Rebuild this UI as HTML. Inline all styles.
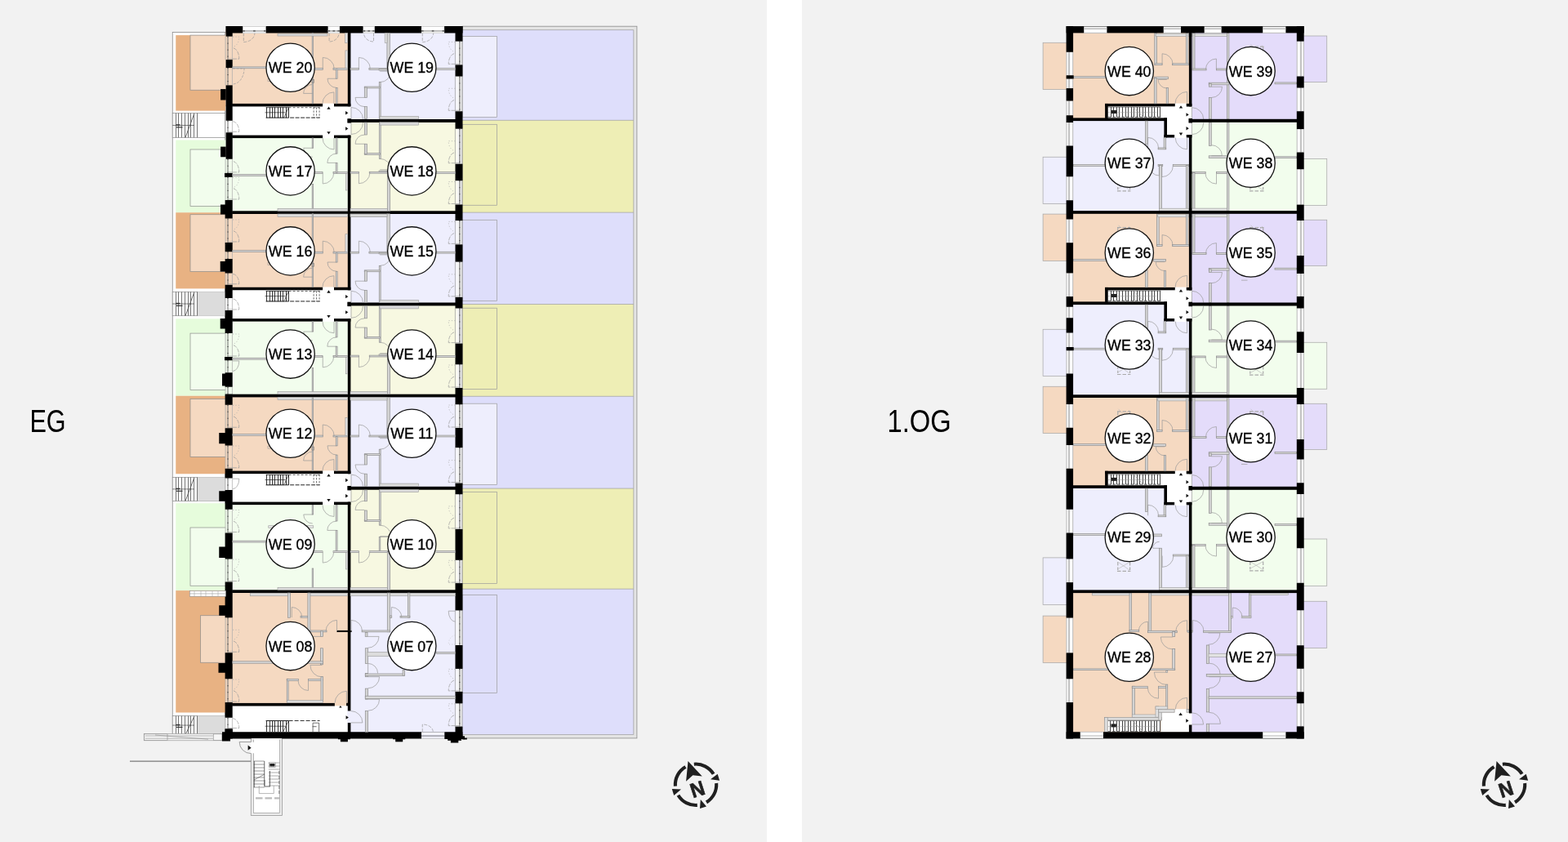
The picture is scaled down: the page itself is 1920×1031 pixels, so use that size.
<!DOCTYPE html>
<html lang="de"><head><meta charset="utf-8"><title>Grundrisse EG / 1.OG</title>
<style>
html,body{margin:0;padding:0;background:#fff;}
body{width:1920px;height:1031px;overflow:hidden;position:relative;font-family:"Liberation Sans",sans-serif;}
svg{position:absolute;left:0;top:0;display:block;}
.we{font-family:"Liberation Sans",sans-serif;font-size:18.5px;fill:#000;stroke:#000;stroke-width:0.35px;text-anchor:middle;}
.fl{font-family:"Liberation Sans",sans-serif;font-size:39.6px;fill:#000;}
.n{font-family:"Liberation Sans",sans-serif;font-weight:bold;font-size:25px;fill:#231f20;stroke:#231f20;stroke-width:0.7px;text-anchor:middle;}
</style></head><body>
<svg width="1920" height="1031" viewBox="0 0 1920 1031">
<rect x="0" y="0" width="939" height="1031" fill="#f2f2f2"/>
<rect x="982" y="0" width="938" height="1031" fill="#f2f2f2"/>
<rect x="566" y="32.2" width="213.9" height="871.7" fill="#e4e4e4" stroke="#8a8a8a" stroke-width="0.8"/>
<rect x="566" y="36.6" width="209.8" height="110.7" fill="#dedefb"/>
<rect x="566" y="147.3" width="209.8" height="112.85" fill="#eeeeb5"/>
<rect x="566" y="260.15" width="209.8" height="112.35" fill="#dedefb"/>
<rect x="566" y="372.5" width="209.8" height="112.8" fill="#eeeeb5"/>
<rect x="566" y="485.3" width="209.8" height="112.8" fill="#dedefb"/>
<rect x="566" y="598.1" width="209.8" height="123.1" fill="#eeeeb5"/>
<rect x="566" y="721.2" width="209.8" height="178.3" fill="#dedefb"/>
<line x1="566" y1="147.3" x2="775.8" y2="147.3" stroke="#9c9c9c" stroke-width="0.7"/>
<line x1="566" y1="260.15" x2="775.8" y2="260.15" stroke="#9c9c9c" stroke-width="0.7"/>
<line x1="566" y1="372.5" x2="775.8" y2="372.5" stroke="#9c9c9c" stroke-width="0.7"/>
<line x1="566" y1="485.3" x2="775.8" y2="485.3" stroke="#9c9c9c" stroke-width="0.7"/>
<line x1="566" y1="598.1" x2="775.8" y2="598.1" stroke="#9c9c9c" stroke-width="0.7"/>
<line x1="566" y1="721.2" x2="775.8" y2="721.2" stroke="#9c9c9c" stroke-width="0.7"/>
<line x1="566" y1="36.6" x2="775.8" y2="36.6" stroke="#9c9c9c" stroke-width="0.7"/>
<line x1="775.8" y1="36.6" x2="775.8" y2="899.5" stroke="#9c9c9c" stroke-width="0.7"/>
<line x1="566" y1="899.5" x2="775.8" y2="899.5" stroke="#9c9c9c" stroke-width="0.7"/>
<rect x="566" y="44.4" width="42.6" height="99.2" fill="#eeeefd" stroke="#9c9c9c" stroke-width="0.7"/>
<rect x="566" y="152.3" width="42.6" height="98.95" fill="#eeeeb5" stroke="#9c9c9c" stroke-width="0.7"/>
<rect x="566" y="269.3" width="42.6" height="99" fill="#dedefb" stroke="#9c9c9c" stroke-width="0.7"/>
<rect x="566" y="377.2" width="42.6" height="99.2" fill="#eeeeb5" stroke="#9c9c9c" stroke-width="0.7"/>
<rect x="566" y="494.2" width="42.6" height="99.2" fill="#eeeefd" stroke="#9c9c9c" stroke-width="0.7"/>
<rect x="566" y="602.3" width="42.6" height="112.1" fill="#eeeeb5" stroke="#9c9c9c" stroke-width="0.7"/>
<rect x="566" y="728.5" width="42.6" height="120" fill="#dedefb" stroke="#9c9c9c" stroke-width="0.7"/>
<rect x="211.25" y="39.4" width="64.45" height="860.1" fill="#fff" stroke="#8a8a8a" stroke-width="0.8"/>
<rect x="215.25" y="43.1" width="61.45" height="92.5" fill="#e8b283"/>
<rect x="233" y="43.1" width="43.7" height="67.15" fill="#f5d9c1" stroke="#8c8c8c" stroke-width="0.7"/>
<rect x="215.25" y="171.5" width="61.45" height="88.75" fill="#e6fcdc"/>
<rect x="233" y="183" width="43.7" height="69.5" fill="#f2fded" stroke="#8c8c8c" stroke-width="0.7"/>
<rect x="215.25" y="260.25" width="61.45" height="93.15" fill="#e8b283"/>
<rect x="233" y="262.75" width="43.7" height="69.75" fill="#f5d9c1" stroke="#8c8c8c" stroke-width="0.7"/>
<rect x="215.25" y="390.3" width="61.45" height="94.45" fill="#e6fcdc"/>
<rect x="233" y="408.1" width="43.7" height="69.4" fill="#f2fded" stroke="#8c8c8c" stroke-width="0.7"/>
<rect x="215.25" y="484.75" width="61.45" height="95.5" fill="#e8b283"/>
<rect x="233" y="488.5" width="43.7" height="70.9" fill="#f5d9c1" stroke="#8c8c8c" stroke-width="0.7"/>
<rect x="215.25" y="616.25" width="61.45" height="106.85" fill="#e6fcdc"/>
<rect x="233" y="646" width="43.7" height="71.25" fill="#f2fded" stroke="#8c8c8c" stroke-width="0.7"/>
<rect x="215.25" y="723.1" width="61.45" height="149.4" fill="#e8b283"/>
<rect x="245.5" y="753.75" width="31.2" height="57.5" fill="#f5d9c1" stroke="#8c8c8c" stroke-width="0.7"/>
<rect x="211.25" y="138.5" width="64.45" height="29.9" fill="#fff" stroke="#8a8a8a" stroke-width="0.7"/>
<line x1="215.5" y1="138.5" x2="215.5" y2="168.4" stroke="#666" stroke-width="0.9"/>
<line x1="218.5" y1="138.5" x2="218.5" y2="168.4" stroke="#666" stroke-width="0.9"/>
<line x1="222.5" y1="138.5" x2="222.5" y2="168.4" stroke="#666" stroke-width="0.9"/>
<line x1="226.5" y1="138.5" x2="226.5" y2="168.4" stroke="#666" stroke-width="0.9"/>
<line x1="230.5" y1="138.5" x2="230.5" y2="168.4" stroke="#666" stroke-width="0.9"/>
<line x1="233.5" y1="138.5" x2="233.5" y2="168.4" stroke="#666" stroke-width="0.9"/>
<line x1="237.5" y1="138.5" x2="237.5" y2="168.4" stroke="#666" stroke-width="0.9"/>
<line x1="241.5" y1="138.5" x2="241.5" y2="168.4" stroke="#666" stroke-width="0.9"/>
<line x1="211.25" y1="153.45" x2="238" y2="153.45" stroke="#444" stroke-width="0.7"/>
<rect x="215.5" y="152.25" width="5" height="1.4" fill="#333"/>
<rect x="216" y="155.25" width="7.5" height="1.2" fill="#333"/>
<line x1="227" y1="168.4" x2="237.7" y2="139.5" stroke="#555" stroke-width="0.9"/>
<rect x="211.25" y="357.3" width="64.45" height="29.4" fill="#fff" stroke="#8a8a8a" stroke-width="0.7"/>
<rect x="241.9" y="357.3" width="33.8" height="29.4" fill="#dcdcdc"/>
<line x1="215.5" y1="357.3" x2="215.5" y2="386.7" stroke="#666" stroke-width="0.9"/>
<line x1="218.5" y1="357.3" x2="218.5" y2="386.7" stroke="#666" stroke-width="0.9"/>
<line x1="222.5" y1="357.3" x2="222.5" y2="386.7" stroke="#666" stroke-width="0.9"/>
<line x1="226.5" y1="357.3" x2="226.5" y2="386.7" stroke="#666" stroke-width="0.9"/>
<line x1="230.5" y1="357.3" x2="230.5" y2="386.7" stroke="#666" stroke-width="0.9"/>
<line x1="233.5" y1="357.3" x2="233.5" y2="386.7" stroke="#666" stroke-width="0.9"/>
<line x1="237.5" y1="357.3" x2="237.5" y2="386.7" stroke="#666" stroke-width="0.9"/>
<line x1="241.5" y1="357.3" x2="241.5" y2="386.7" stroke="#666" stroke-width="0.9"/>
<line x1="211.25" y1="372" x2="238" y2="372" stroke="#444" stroke-width="0.7"/>
<rect x="215.5" y="370.8" width="5" height="1.4" fill="#333"/>
<rect x="216" y="373.8" width="7.5" height="1.2" fill="#333"/>
<line x1="227" y1="386.7" x2="237.7" y2="358.3" stroke="#555" stroke-width="0.9"/>
<rect x="211.25" y="584.4" width="64.45" height="29" fill="#fff" stroke="#8a8a8a" stroke-width="0.7"/>
<rect x="241.9" y="584.4" width="33.8" height="29" fill="#dcdcdc"/>
<line x1="215.5" y1="584.4" x2="215.5" y2="613.4" stroke="#666" stroke-width="0.9"/>
<line x1="218.5" y1="584.4" x2="218.5" y2="613.4" stroke="#666" stroke-width="0.9"/>
<line x1="222.5" y1="584.4" x2="222.5" y2="613.4" stroke="#666" stroke-width="0.9"/>
<line x1="226.5" y1="584.4" x2="226.5" y2="613.4" stroke="#666" stroke-width="0.9"/>
<line x1="230.5" y1="584.4" x2="230.5" y2="613.4" stroke="#666" stroke-width="0.9"/>
<line x1="233.5" y1="584.4" x2="233.5" y2="613.4" stroke="#666" stroke-width="0.9"/>
<line x1="237.5" y1="584.4" x2="237.5" y2="613.4" stroke="#666" stroke-width="0.9"/>
<line x1="241.5" y1="584.4" x2="241.5" y2="613.4" stroke="#666" stroke-width="0.9"/>
<line x1="211.25" y1="598.9" x2="238" y2="598.9" stroke="#444" stroke-width="0.7"/>
<rect x="215.5" y="597.7" width="5" height="1.4" fill="#333"/>
<rect x="216" y="600.7" width="7.5" height="1.2" fill="#333"/>
<line x1="227" y1="613.4" x2="237.7" y2="585.4" stroke="#555" stroke-width="0.9"/>
<rect x="211.25" y="876.5" width="64.45" height="23.1" fill="#fff" stroke="#8a8a8a" stroke-width="0.7"/>
<rect x="241.9" y="876.5" width="33.8" height="23.1" fill="#dcdcdc"/>
<line x1="215.5" y1="876.5" x2="215.5" y2="899.6" stroke="#666" stroke-width="0.9"/>
<line x1="218.5" y1="876.5" x2="218.5" y2="899.6" stroke="#666" stroke-width="0.9"/>
<line x1="222.5" y1="876.5" x2="222.5" y2="899.6" stroke="#666" stroke-width="0.9"/>
<line x1="226.5" y1="876.5" x2="226.5" y2="899.6" stroke="#666" stroke-width="0.9"/>
<line x1="230.5" y1="876.5" x2="230.5" y2="899.6" stroke="#666" stroke-width="0.9"/>
<line x1="233.5" y1="876.5" x2="233.5" y2="899.6" stroke="#666" stroke-width="0.9"/>
<line x1="237.5" y1="876.5" x2="237.5" y2="899.6" stroke="#666" stroke-width="0.9"/>
<line x1="241.5" y1="876.5" x2="241.5" y2="899.6" stroke="#666" stroke-width="0.9"/>
<line x1="211.25" y1="888.05" x2="238" y2="888.05" stroke="#444" stroke-width="0.7"/>
<rect x="215.5" y="886.85" width="5" height="1.4" fill="#333"/>
<rect x="216" y="889.85" width="7.5" height="1.2" fill="#333"/>
<line x1="227" y1="899.6" x2="237.7" y2="877.5" stroke="#555" stroke-width="0.9"/>
<rect x="276.2" y="36" width="151.1" height="92.5" fill="#f5d9c1"/>
<rect x="427.3" y="36" width="132.2" height="112" fill="#eeeefd"/>
<rect x="276.2" y="167" width="151.1" height="93" fill="#f2fded"/>
<rect x="427.3" y="148" width="132.2" height="112" fill="#f7f8e1"/>
<rect x="276.2" y="260" width="151.1" height="93.5" fill="#f5d9c1"/>
<rect x="427.3" y="260" width="132.2" height="112.5" fill="#eeeefd"/>
<rect x="276.2" y="392" width="151.1" height="92.5" fill="#f2fded"/>
<rect x="427.3" y="372.5" width="132.2" height="112" fill="#f7f8e1"/>
<rect x="276.2" y="484.5" width="151.1" height="94" fill="#f5d9c1"/>
<rect x="427.3" y="484.5" width="132.2" height="113" fill="#eeeefd"/>
<rect x="276.2" y="616.5" width="151.1" height="107.5" fill="#f2fded"/>
<rect x="427.3" y="597.5" width="132.2" height="126.5" fill="#f7f8e1"/>
<rect x="276.2" y="724" width="151.1" height="138.5" fill="#f5d9c1"/>
<rect x="427.3" y="724" width="132.2" height="176" fill="#eeeefd"/>
<rect x="276.2" y="130.3" width="153.2" height="35.3" fill="#fff"/>
<rect x="276.2" y="355.2" width="153.2" height="35" fill="#fff"/>
<rect x="276.2" y="580.2" width="153.2" height="34.4" fill="#fff"/>
<rect x="276.2" y="864.2" width="153.2" height="32.8" fill="#fff"/>
<line x1="276" y1="44.6" x2="276" y2="73.1" stroke="#aaa" stroke-width="0.7"/>
<line x1="279" y1="44.6" x2="279" y2="73.1" stroke="#777" stroke-width="1.1"/>
<line x1="279" y1="44.6" x2="279" y2="73.1" stroke="#222" stroke-width="0.9" stroke-dasharray="1 7"/>
<line x1="284.4" y1="44.6" x2="284.4" y2="73.1" stroke="#aaa" stroke-width="0.7"/>
<line x1="276" y1="83.1" x2="276" y2="104.4" stroke="#aaa" stroke-width="0.7"/>
<line x1="279" y1="83.1" x2="279" y2="104.4" stroke="#777" stroke-width="1.1"/>
<line x1="279" y1="83.1" x2="279" y2="104.4" stroke="#222" stroke-width="0.9" stroke-dasharray="1 7"/>
<line x1="284.4" y1="83.1" x2="284.4" y2="104.4" stroke="#aaa" stroke-width="0.7"/>
<line x1="276" y1="147.75" x2="276" y2="162.25" stroke="#aaa" stroke-width="0.7"/>
<line x1="279" y1="147.75" x2="279" y2="162.25" stroke="#777" stroke-width="1.1"/>
<line x1="279" y1="147.75" x2="279" y2="162.25" stroke="#222" stroke-width="0.9" stroke-dasharray="1 7"/>
<line x1="284.4" y1="147.75" x2="284.4" y2="162.25" stroke="#aaa" stroke-width="0.7"/>
<line x1="276" y1="194.75" x2="276" y2="211.9" stroke="#aaa" stroke-width="0.7"/>
<line x1="279" y1="194.75" x2="279" y2="211.9" stroke="#777" stroke-width="1.1"/>
<line x1="279" y1="194.75" x2="279" y2="211.9" stroke="#222" stroke-width="0.9" stroke-dasharray="1 7"/>
<line x1="284.4" y1="194.75" x2="284.4" y2="211.9" stroke="#aaa" stroke-width="0.7"/>
<line x1="276" y1="216.9" x2="276" y2="245" stroke="#aaa" stroke-width="0.7"/>
<line x1="279" y1="216.9" x2="279" y2="245" stroke="#777" stroke-width="1.1"/>
<line x1="279" y1="216.9" x2="279" y2="245" stroke="#222" stroke-width="0.9" stroke-dasharray="1 7"/>
<line x1="284.4" y1="216.9" x2="284.4" y2="245" stroke="#aaa" stroke-width="0.7"/>
<line x1="276" y1="267.5" x2="276" y2="297" stroke="#aaa" stroke-width="0.7"/>
<line x1="279" y1="267.5" x2="279" y2="297" stroke="#777" stroke-width="1.1"/>
<line x1="279" y1="267.5" x2="279" y2="297" stroke="#222" stroke-width="0.9" stroke-dasharray="1 7"/>
<line x1="284.4" y1="267.5" x2="284.4" y2="297" stroke="#aaa" stroke-width="0.7"/>
<line x1="276" y1="308.25" x2="276" y2="317" stroke="#aaa" stroke-width="0.7"/>
<line x1="279" y1="308.25" x2="279" y2="317" stroke="#777" stroke-width="1.1"/>
<line x1="279" y1="308.25" x2="279" y2="317" stroke="#222" stroke-width="0.9" stroke-dasharray="1 7"/>
<line x1="284.4" y1="308.25" x2="284.4" y2="317" stroke="#aaa" stroke-width="0.7"/>
<line x1="276" y1="334.5" x2="276" y2="348.75" stroke="#aaa" stroke-width="0.7"/>
<line x1="279" y1="334.5" x2="279" y2="348.75" stroke="#777" stroke-width="1.1"/>
<line x1="279" y1="334.5" x2="279" y2="348.75" stroke="#222" stroke-width="0.9" stroke-dasharray="1 7"/>
<line x1="284.4" y1="334.5" x2="284.4" y2="348.75" stroke="#aaa" stroke-width="0.7"/>
<line x1="276" y1="365" x2="276" y2="380" stroke="#aaa" stroke-width="0.7"/>
<line x1="279" y1="365" x2="279" y2="380" stroke="#777" stroke-width="1.1"/>
<line x1="279" y1="365" x2="279" y2="380" stroke="#222" stroke-width="0.9" stroke-dasharray="1 7"/>
<line x1="284.4" y1="365" x2="284.4" y2="380" stroke="#aaa" stroke-width="0.7"/>
<line x1="276" y1="408" x2="276" y2="437" stroke="#aaa" stroke-width="0.7"/>
<line x1="279" y1="408" x2="279" y2="437" stroke="#777" stroke-width="1.1"/>
<line x1="279" y1="408" x2="279" y2="437" stroke="#222" stroke-width="0.9" stroke-dasharray="1 7"/>
<line x1="284.4" y1="408" x2="284.4" y2="437" stroke="#aaa" stroke-width="0.7"/>
<line x1="276" y1="441.25" x2="276" y2="456.25" stroke="#aaa" stroke-width="0.7"/>
<line x1="279" y1="441.25" x2="279" y2="456.25" stroke="#777" stroke-width="1.1"/>
<line x1="279" y1="441.25" x2="279" y2="456.25" stroke="#222" stroke-width="0.9" stroke-dasharray="1 7"/>
<line x1="284.4" y1="441.25" x2="284.4" y2="456.25" stroke="#aaa" stroke-width="0.7"/>
<line x1="276" y1="473.75" x2="276" y2="482.5" stroke="#aaa" stroke-width="0.7"/>
<line x1="279" y1="473.75" x2="279" y2="482.5" stroke="#777" stroke-width="1.1"/>
<line x1="279" y1="473.75" x2="279" y2="482.5" stroke="#222" stroke-width="0.9" stroke-dasharray="1 7"/>
<line x1="284.4" y1="473.75" x2="284.4" y2="482.5" stroke="#aaa" stroke-width="0.7"/>
<line x1="276" y1="495.75" x2="276" y2="524.25" stroke="#aaa" stroke-width="0.7"/>
<line x1="279" y1="495.75" x2="279" y2="524.25" stroke="#777" stroke-width="1.1"/>
<line x1="279" y1="495.75" x2="279" y2="524.25" stroke="#222" stroke-width="0.9" stroke-dasharray="1 7"/>
<line x1="284.4" y1="495.75" x2="284.4" y2="524.25" stroke="#aaa" stroke-width="0.7"/>
<line x1="276" y1="545.5" x2="276" y2="573.75" stroke="#aaa" stroke-width="0.7"/>
<line x1="279" y1="545.5" x2="279" y2="573.75" stroke="#777" stroke-width="1.1"/>
<line x1="279" y1="545.5" x2="279" y2="573.75" stroke="#222" stroke-width="0.9" stroke-dasharray="1 7"/>
<line x1="284.4" y1="545.5" x2="284.4" y2="573.75" stroke="#aaa" stroke-width="0.7"/>
<line x1="276" y1="585.5" x2="276" y2="600" stroke="#aaa" stroke-width="0.7"/>
<line x1="279" y1="585.5" x2="279" y2="600" stroke="#777" stroke-width="1.1"/>
<line x1="279" y1="585.5" x2="279" y2="600" stroke="#222" stroke-width="0.9" stroke-dasharray="1 7"/>
<line x1="284.4" y1="585.5" x2="284.4" y2="600" stroke="#aaa" stroke-width="0.7"/>
<line x1="276" y1="623.75" x2="276" y2="652.5" stroke="#aaa" stroke-width="0.7"/>
<line x1="279" y1="623.75" x2="279" y2="652.5" stroke="#777" stroke-width="1.1"/>
<line x1="279" y1="623.75" x2="279" y2="652.5" stroke="#222" stroke-width="0.9" stroke-dasharray="1 7"/>
<line x1="284.4" y1="623.75" x2="284.4" y2="652.5" stroke="#aaa" stroke-width="0.7"/>
<line x1="276" y1="684.5" x2="276" y2="712.5" stroke="#aaa" stroke-width="0.7"/>
<line x1="279" y1="684.5" x2="279" y2="712.5" stroke="#777" stroke-width="1.1"/>
<line x1="279" y1="684.5" x2="279" y2="712.5" stroke="#222" stroke-width="0.9" stroke-dasharray="1 7"/>
<line x1="284.4" y1="684.5" x2="284.4" y2="712.5" stroke="#aaa" stroke-width="0.7"/>
<line x1="276" y1="756.25" x2="276" y2="799.25" stroke="#aaa" stroke-width="0.7"/>
<line x1="279" y1="756.25" x2="279" y2="799.25" stroke="#777" stroke-width="1.1"/>
<line x1="279" y1="756.25" x2="279" y2="799.25" stroke="#222" stroke-width="0.9" stroke-dasharray="1 7"/>
<line x1="284.4" y1="756.25" x2="284.4" y2="799.25" stroke="#aaa" stroke-width="0.7"/>
<line x1="276" y1="831.25" x2="276" y2="860" stroke="#aaa" stroke-width="0.7"/>
<line x1="279" y1="831.25" x2="279" y2="860" stroke="#777" stroke-width="1.1"/>
<line x1="279" y1="831.25" x2="279" y2="860" stroke="#222" stroke-width="0.9" stroke-dasharray="1 7"/>
<line x1="284.4" y1="831.25" x2="284.4" y2="860" stroke="#aaa" stroke-width="0.7"/>
<line x1="276" y1="878.75" x2="276" y2="892.5" stroke="#aaa" stroke-width="0.7"/>
<line x1="279" y1="878.75" x2="279" y2="892.5" stroke="#777" stroke-width="1.1"/>
<line x1="279" y1="878.75" x2="279" y2="892.5" stroke="#222" stroke-width="0.9" stroke-dasharray="1 7"/>
<line x1="284.4" y1="878.75" x2="284.4" y2="892.5" stroke="#aaa" stroke-width="0.7"/>
<rect x="276.6" y="32" width="8.1" height="12.6" fill="#000"/>
<rect x="276.6" y="73.1" width="8.1" height="10" fill="#000"/>
<rect x="276.6" y="104.4" width="8.1" height="43.35" fill="#000"/>
<rect x="270.1" y="109.1" width="6.6" height="13.4" fill="#000"/>
<rect x="276.6" y="162.25" width="8.1" height="32.5" fill="#000"/>
<rect x="270.1" y="179.6" width="6.6" height="12.65" fill="#000"/>
<rect x="275" y="211.9" width="9.7" height="5" fill="#000"/>
<rect x="275.6" y="245" width="9.1" height="22.5" fill="#000"/>
<rect x="270" y="250.5" width="6.7" height="12" fill="#000"/>
<rect x="275.6" y="297" width="9.1" height="11.25" fill="#000"/>
<rect x="275.6" y="317" width="9.1" height="17.5" fill="#000"/>
<rect x="269.7" y="320" width="7" height="12.5" fill="#000"/>
<rect x="275.6" y="348.75" width="9.1" height="16.25" fill="#000"/>
<rect x="275.6" y="380" width="9.1" height="28" fill="#000"/>
<rect x="269.7" y="390" width="7" height="12.5" fill="#000"/>
<rect x="275" y="437" width="9.7" height="4.25" fill="#000"/>
<rect x="275.6" y="456.25" width="9.1" height="17.5" fill="#000"/>
<rect x="272" y="457.5" width="4.7" height="15" fill="#000"/>
<rect x="275.6" y="482.5" width="9.1" height="13.25" fill="#000"/>
<rect x="275.6" y="524.25" width="9.1" height="21.25" fill="#000"/>
<rect x="268.25" y="530" width="8.45" height="13.25" fill="#000"/>
<rect x="275.6" y="573.75" width="9.1" height="11.75" fill="#000"/>
<rect x="275.6" y="600" width="9.1" height="23.75" fill="#000"/>
<rect x="268.25" y="601.25" width="8.45" height="12.5" fill="#000"/>
<rect x="275.6" y="652.5" width="9.1" height="32" fill="#000"/>
<rect x="268.25" y="669.5" width="8.45" height="13.5" fill="#000"/>
<rect x="275.6" y="712.5" width="9.1" height="43.75" fill="#000"/>
<rect x="268.25" y="741.25" width="8.45" height="12.5" fill="#000"/>
<rect x="275.6" y="799.25" width="9.1" height="32" fill="#000"/>
<rect x="267.5" y="812" width="9.2" height="11.75" fill="#000"/>
<rect x="275.6" y="860" width="9.1" height="18.75" fill="#000"/>
<rect x="275.6" y="892.5" width="9.1" height="12" fill="#000"/>
<rect x="557.5" y="50.6" width="8.6" height="28.8" fill="#ffffff" fill-opacity="0.35"/>
<line x1="557.4" y1="50.6" x2="557.4" y2="79.4" stroke="#999" stroke-width="0.7"/>
<line x1="562.9" y1="50.6" x2="562.9" y2="79.4" stroke="#8a8a8a" stroke-width="1.4"/>
<line x1="562.9" y1="50.6" x2="562.9" y2="79.4" stroke="#333" stroke-width="0.9" stroke-dasharray="1 7"/>
<line x1="566.1" y1="50.6" x2="566.1" y2="79.4" stroke="#999" stroke-width="0.7"/>
<rect x="557.5" y="93.5" width="8.6" height="42.8" fill="#ffffff" fill-opacity="0.35"/>
<line x1="557.4" y1="93.5" x2="557.4" y2="136.3" stroke="#999" stroke-width="0.7"/>
<line x1="562.9" y1="93.5" x2="562.9" y2="136.3" stroke="#8a8a8a" stroke-width="1.4"/>
<line x1="562.9" y1="93.5" x2="562.9" y2="136.3" stroke="#333" stroke-width="0.9" stroke-dasharray="1 7"/>
<line x1="566.1" y1="93.5" x2="566.1" y2="136.3" stroke="#999" stroke-width="0.7"/>
<rect x="557.5" y="157.7" width="8.6" height="43" fill="#ffffff" fill-opacity="0.35"/>
<line x1="557.4" y1="157.7" x2="557.4" y2="200.7" stroke="#999" stroke-width="0.7"/>
<line x1="562.9" y1="157.7" x2="562.9" y2="200.7" stroke="#8a8a8a" stroke-width="1.4"/>
<line x1="562.9" y1="157.7" x2="562.9" y2="200.7" stroke="#333" stroke-width="0.9" stroke-dasharray="1 7"/>
<line x1="566.1" y1="157.7" x2="566.1" y2="200.7" stroke="#999" stroke-width="0.7"/>
<rect x="557.5" y="221.2" width="8.6" height="29.3" fill="#ffffff" fill-opacity="0.35"/>
<line x1="557.4" y1="221.2" x2="557.4" y2="250.5" stroke="#999" stroke-width="0.7"/>
<line x1="562.9" y1="221.2" x2="562.9" y2="250.5" stroke="#8a8a8a" stroke-width="1.4"/>
<line x1="562.9" y1="221.2" x2="562.9" y2="250.5" stroke="#333" stroke-width="0.9" stroke-dasharray="1 7"/>
<line x1="566.1" y1="221.2" x2="566.1" y2="250.5" stroke="#999" stroke-width="0.7"/>
<rect x="557.5" y="270.1" width="8.6" height="29.3" fill="#ffffff" fill-opacity="0.35"/>
<line x1="557.4" y1="270.1" x2="557.4" y2="299.4" stroke="#999" stroke-width="0.7"/>
<line x1="562.9" y1="270.1" x2="562.9" y2="299.4" stroke="#8a8a8a" stroke-width="1.4"/>
<line x1="562.9" y1="270.1" x2="562.9" y2="299.4" stroke="#333" stroke-width="0.9" stroke-dasharray="1 7"/>
<line x1="566.1" y1="270.1" x2="566.1" y2="299.4" stroke="#999" stroke-width="0.7"/>
<rect x="557.5" y="320.6" width="8.6" height="43.3" fill="#ffffff" fill-opacity="0.35"/>
<line x1="557.4" y1="320.6" x2="557.4" y2="363.9" stroke="#999" stroke-width="0.7"/>
<line x1="562.9" y1="320.6" x2="562.9" y2="363.9" stroke="#8a8a8a" stroke-width="1.4"/>
<line x1="562.9" y1="320.6" x2="562.9" y2="363.9" stroke="#333" stroke-width="0.9" stroke-dasharray="1 7"/>
<line x1="566.1" y1="320.6" x2="566.1" y2="363.9" stroke="#999" stroke-width="0.7"/>
<rect x="557.5" y="377.5" width="8.6" height="43.1" fill="#ffffff" fill-opacity="0.35"/>
<line x1="557.4" y1="377.5" x2="557.4" y2="420.6" stroke="#999" stroke-width="0.7"/>
<line x1="562.9" y1="377.5" x2="562.9" y2="420.6" stroke="#8a8a8a" stroke-width="1.4"/>
<line x1="562.9" y1="377.5" x2="562.9" y2="420.6" stroke="#333" stroke-width="0.9" stroke-dasharray="1 7"/>
<line x1="566.1" y1="377.5" x2="566.1" y2="420.6" stroke="#999" stroke-width="0.7"/>
<rect x="557.5" y="446.25" width="8.6" height="28.75" fill="#ffffff" fill-opacity="0.35"/>
<line x1="557.4" y1="446.25" x2="557.4" y2="475" stroke="#999" stroke-width="0.7"/>
<line x1="562.9" y1="446.25" x2="562.9" y2="475" stroke="#8a8a8a" stroke-width="1.4"/>
<line x1="562.9" y1="446.25" x2="562.9" y2="475" stroke="#333" stroke-width="0.9" stroke-dasharray="1 7"/>
<line x1="566.1" y1="446.25" x2="566.1" y2="475" stroke="#999" stroke-width="0.7"/>
<rect x="557.5" y="495.2" width="8.6" height="28.8" fill="#ffffff" fill-opacity="0.35"/>
<line x1="557.4" y1="495.2" x2="557.4" y2="524" stroke="#999" stroke-width="0.7"/>
<line x1="562.9" y1="495.2" x2="562.9" y2="524" stroke="#8a8a8a" stroke-width="1.4"/>
<line x1="562.9" y1="495.2" x2="562.9" y2="524" stroke="#333" stroke-width="0.9" stroke-dasharray="1 7"/>
<line x1="566.1" y1="495.2" x2="566.1" y2="524" stroke="#999" stroke-width="0.7"/>
<rect x="557.5" y="548.1" width="8.6" height="43.5" fill="#ffffff" fill-opacity="0.35"/>
<line x1="557.4" y1="548.1" x2="557.4" y2="591.6" stroke="#999" stroke-width="0.7"/>
<line x1="562.9" y1="548.1" x2="562.9" y2="591.6" stroke="#8a8a8a" stroke-width="1.4"/>
<line x1="562.9" y1="548.1" x2="562.9" y2="591.6" stroke="#333" stroke-width="0.9" stroke-dasharray="1 7"/>
<line x1="566.1" y1="548.1" x2="566.1" y2="591.6" stroke="#999" stroke-width="0.7"/>
<rect x="557.5" y="605.2" width="8.6" height="42.7" fill="#ffffff" fill-opacity="0.35"/>
<line x1="557.4" y1="605.2" x2="557.4" y2="647.9" stroke="#999" stroke-width="0.7"/>
<line x1="562.9" y1="605.2" x2="562.9" y2="647.9" stroke="#8a8a8a" stroke-width="1.4"/>
<line x1="562.9" y1="605.2" x2="562.9" y2="647.9" stroke="#333" stroke-width="0.9" stroke-dasharray="1 7"/>
<line x1="566.1" y1="605.2" x2="566.1" y2="647.9" stroke="#999" stroke-width="0.7"/>
<rect x="557.5" y="685.8" width="8.6" height="28.3" fill="#ffffff" fill-opacity="0.35"/>
<line x1="557.4" y1="685.8" x2="557.4" y2="714.1" stroke="#999" stroke-width="0.7"/>
<line x1="562.9" y1="685.8" x2="562.9" y2="714.1" stroke="#8a8a8a" stroke-width="1.4"/>
<line x1="562.9" y1="685.8" x2="562.9" y2="714.1" stroke="#333" stroke-width="0.9" stroke-dasharray="1 7"/>
<line x1="566.1" y1="685.8" x2="566.1" y2="714.1" stroke="#999" stroke-width="0.7"/>
<rect x="557.5" y="747.4" width="8.6" height="42.6" fill="#ffffff" fill-opacity="0.35"/>
<line x1="557.4" y1="747.4" x2="557.4" y2="790" stroke="#999" stroke-width="0.7"/>
<line x1="562.9" y1="747.4" x2="562.9" y2="790" stroke="#8a8a8a" stroke-width="1.4"/>
<line x1="562.9" y1="747.4" x2="562.9" y2="790" stroke="#333" stroke-width="0.9" stroke-dasharray="1 7"/>
<line x1="566.1" y1="747.4" x2="566.1" y2="790" stroke="#999" stroke-width="0.7"/>
<rect x="557.5" y="818.9" width="8.6" height="28" fill="#ffffff" fill-opacity="0.35"/>
<line x1="557.4" y1="818.9" x2="557.4" y2="846.9" stroke="#999" stroke-width="0.7"/>
<line x1="562.9" y1="818.9" x2="562.9" y2="846.9" stroke="#8a8a8a" stroke-width="1.4"/>
<line x1="562.9" y1="818.9" x2="562.9" y2="846.9" stroke="#333" stroke-width="0.9" stroke-dasharray="1 7"/>
<line x1="566.1" y1="818.9" x2="566.1" y2="846.9" stroke="#999" stroke-width="0.7"/>
<rect x="557.5" y="861.3" width="8.6" height="28.3" fill="#ffffff" fill-opacity="0.35"/>
<line x1="557.4" y1="861.3" x2="557.4" y2="889.6" stroke="#999" stroke-width="0.7"/>
<line x1="562.9" y1="861.3" x2="562.9" y2="889.6" stroke="#8a8a8a" stroke-width="1.4"/>
<line x1="562.9" y1="861.3" x2="562.9" y2="889.6" stroke="#333" stroke-width="0.9" stroke-dasharray="1 7"/>
<line x1="566.1" y1="861.3" x2="566.1" y2="889.6" stroke="#999" stroke-width="0.7"/>
<rect x="557.5" y="32" width="9" height="18.6" fill="#000"/>
<rect x="557.5" y="79.4" width="9" height="14.1" fill="#000"/>
<rect x="557.5" y="136.3" width="9" height="21.4" fill="#000"/>
<rect x="557.5" y="200.7" width="9" height="20.5" fill="#000"/>
<rect x="557.5" y="250.5" width="9" height="19.6" fill="#000"/>
<rect x="557.5" y="299.4" width="9" height="21.2" fill="#000"/>
<rect x="557.5" y="363.9" width="9" height="13.6" fill="#000"/>
<rect x="557.5" y="420.6" width="9" height="25.65" fill="#000"/>
<rect x="557.5" y="475" width="9" height="20.2" fill="#000"/>
<rect x="557.5" y="524" width="9" height="24.1" fill="#000"/>
<rect x="557.5" y="591.6" width="9" height="13.6" fill="#000"/>
<rect x="557.5" y="647.9" width="9" height="37.9" fill="#000"/>
<rect x="557.5" y="714.1" width="9" height="33.3" fill="#000"/>
<rect x="557.5" y="790" width="9" height="28.9" fill="#000"/>
<rect x="557.5" y="846.9" width="9" height="14.4" fill="#000"/>
<rect x="557.5" y="889.6" width="9" height="14.9" fill="#000"/>
<rect x="276.7" y="32" width="289.8" height="8.5" fill="#000"/>
<rect x="297.25" y="31.5" width="28.35" height="9.5" fill="#fff"/>
<line x1="297.25" y1="32.4" x2="325.6" y2="32.4" stroke="#aaa" stroke-width="0.6"/>
<line x1="297.25" y1="37.9" x2="325.6" y2="37.9" stroke="#a6a6a6" stroke-width="1.4"/>
<rect x="297.15" y="37.2" width="2.6" height="1.4" fill="#555"/>
<rect x="310.12" y="37.2" width="2.6" height="1.4" fill="#555"/>
<rect x="323.1" y="37.2" width="2.6" height="1.4" fill="#555"/>
<line x1="297.25" y1="40.2" x2="325.6" y2="40.2" stroke="#aaa" stroke-width="0.6"/>
<rect x="401.6" y="31.5" width="14.3" height="9.5" fill="#fff"/>
<line x1="401.6" y1="32.4" x2="415.9" y2="32.4" stroke="#aaa" stroke-width="0.6"/>
<line x1="401.6" y1="37.9" x2="415.9" y2="37.9" stroke="#a6a6a6" stroke-width="1.4"/>
<rect x="401.5" y="37.2" width="2.6" height="1.4" fill="#555"/>
<rect x="407.45" y="37.2" width="2.6" height="1.4" fill="#555"/>
<rect x="413.4" y="37.2" width="2.6" height="1.4" fill="#555"/>
<line x1="401.6" y1="40.2" x2="415.9" y2="40.2" stroke="#aaa" stroke-width="0.6"/>
<rect x="444.6" y="31.5" width="14.15" height="9.5" fill="#fff"/>
<line x1="444.6" y1="32.4" x2="458.75" y2="32.4" stroke="#aaa" stroke-width="0.6"/>
<line x1="444.6" y1="37.9" x2="458.75" y2="37.9" stroke="#a6a6a6" stroke-width="1.4"/>
<rect x="444.5" y="37.2" width="2.6" height="1.4" fill="#555"/>
<rect x="450.38" y="37.2" width="2.6" height="1.4" fill="#555"/>
<rect x="456.25" y="37.2" width="2.6" height="1.4" fill="#555"/>
<line x1="444.6" y1="40.2" x2="458.75" y2="40.2" stroke="#aaa" stroke-width="0.6"/>
<rect x="516" y="31.5" width="28.1" height="9.5" fill="#fff"/>
<line x1="516" y1="32.4" x2="544.1" y2="32.4" stroke="#aaa" stroke-width="0.6"/>
<line x1="516" y1="37.9" x2="544.1" y2="37.9" stroke="#a6a6a6" stroke-width="1.4"/>
<rect x="515.9" y="37.2" width="2.6" height="1.4" fill="#555"/>
<rect x="528.75" y="37.2" width="2.6" height="1.4" fill="#555"/>
<rect x="541.6" y="37.2" width="2.6" height="1.4" fill="#555"/>
<line x1="516" y1="40.2" x2="544.1" y2="40.2" stroke="#aaa" stroke-width="0.6"/>
<rect x="272" y="896.25" width="244" height="8.25" fill="#000"/>
<rect x="516" y="896.25" width="28.25" height="8.25" fill="#f4f4fd"/>
<line x1="516" y1="896.5" x2="544.25" y2="896.5" stroke="#999" stroke-width="0.7"/>
<line x1="516" y1="901.1" x2="544.25" y2="901.1" stroke="#9a9aa2" stroke-width="1.5"/>
<line x1="516" y1="904.2" x2="544.25" y2="904.2" stroke="#aaa" stroke-width="0.7"/>
<rect x="544.3" y="896.25" width="22.1" height="8.75" fill="#000"/>
<rect x="548.2" y="904" width="16.8" height="2.8" fill="#000"/>
<rect x="551.9" y="906" width="9.4" height="3.5" fill="#000"/>
<rect x="566" y="901.3" width="3" height="4.2" fill="#000"/>
<rect x="568.5" y="903.6" width="3.3" height="1.9" fill="#000"/>
<rect x="416.9" y="904" width="9" height="4.3" fill="#000"/>
<rect x="413.9" y="904" width="15" height="1.3" fill="#000"/>
<rect x="484.2" y="904" width="9" height="4.3" fill="#000"/>
<rect x="481.2" y="904" width="15" height="1.3" fill="#000"/>
<rect x="425.8" y="40" width="3.6" height="90.3" fill="#000"/>
<rect x="425.8" y="165.6" width="3.6" height="189.7" fill="#000"/>
<rect x="425.8" y="390.2" width="3.6" height="190.1" fill="#000"/>
<rect x="425.8" y="614.6" width="3.6" height="256.1" fill="#000"/>
<rect x="425.8" y="884.9" width="3.6" height="12.1" fill="#000"/>
<rect x="284.2" y="126.9" width="111.05" height="3.5" fill="#000"/>
<rect x="409" y="126.9" width="20.4" height="3.5" fill="#000"/>
<rect x="284.2" y="165.6" width="111.05" height="3.5" fill="#000"/>
<rect x="409" y="165.6" width="20.4" height="3.5" fill="#000"/>
<rect x="284.2" y="351.75" width="111.05" height="3.5" fill="#000"/>
<rect x="409" y="351.75" width="20.4" height="3.5" fill="#000"/>
<rect x="284.2" y="390.1" width="111.05" height="3.5" fill="#000"/>
<rect x="409" y="390.1" width="20.4" height="3.5" fill="#000"/>
<rect x="284.2" y="576.6" width="111.05" height="3.5" fill="#000"/>
<rect x="409" y="576.6" width="20.4" height="3.5" fill="#000"/>
<rect x="284.2" y="614.6" width="111.05" height="3.5" fill="#000"/>
<rect x="409" y="614.6" width="20.4" height="3.5" fill="#000"/>
<rect x="284.2" y="860.9" width="125.7" height="3.6" fill="#000"/>
<rect x="284.2" y="258.3" width="273.8" height="3.7" fill="#000"/>
<rect x="284.2" y="482.7" width="273.8" height="3.7" fill="#000"/>
<rect x="284.2" y="722.3" width="273.8" height="3.7" fill="#000"/>
<rect x="425.8" y="146" width="132.2" height="3.9" fill="#000"/>
<rect x="425.4" y="145.2" width="4.6" height="5.4" fill="#000"/>
<rect x="425.8" y="370.5" width="132.2" height="3.9" fill="#000"/>
<rect x="425.4" y="369.7" width="4.6" height="5.4" fill="#000"/>
<rect x="425.8" y="595.8" width="132.2" height="3.9" fill="#000"/>
<rect x="425.4" y="595" width="4.6" height="5.4" fill="#000"/>
<rect x="395.25" y="126.6" width="13.75" height="4.1" fill="#fff"/>
<rect x="395.25" y="165.3" width="13.75" height="4.1" fill="#fff"/>
<rect x="395.25" y="351.45" width="13.75" height="4.1" fill="#fff"/>
<rect x="395.25" y="389.8" width="13.75" height="4.1" fill="#fff"/>
<rect x="395.25" y="576.3" width="13.75" height="4.1" fill="#fff"/>
<rect x="395.25" y="614.3" width="13.75" height="4.1" fill="#fff"/>
<rect x="409.9" y="860.5" width="14.2" height="3.7" fill="#f5d9c1"/>
<rect x="424.1" y="860.75" width="2.2" height="3.55" fill="#000"/>
<path d="M298.3 40.5L298.3 51.5A13.6 11 0 0 0 311.9 40.5" fill="none" stroke="#9a9a9a" stroke-width="0.7" stroke-dasharray="4 1.5"/>
<path d="M403.1 40.5L403.1 51A12 10.5 0 0 0 415.1 40.5" fill="none" stroke="#9a9a9a" stroke-width="0.7" stroke-dasharray="4 1.5"/>
<path d="M457.5 40.5L457.5 51A12 10.5 0 0 1 445.5 40.5" fill="none" stroke="#9a9a9a" stroke-width="0.7" stroke-dasharray="4 1.5"/>
<path d="M517.25 40.5L517.25 51.5A13.4 11 0 0 0 530.65 40.5" fill="none" stroke="#9a9a9a" stroke-width="0.7" stroke-dasharray="4 1.5"/>
<rect x="284.75" y="81.85" width="71.25" height="1.9" fill="#d8d8d8" stroke="#8e8e8e" stroke-width="0.7"/>
<rect x="356" y="83.45" width="39.25" height="1.9" fill="#d8d8d8" stroke="#8e8e8e" stroke-width="0.7"/>
<rect x="408" y="83.45" width="17.6" height="1.9" fill="#d8d8d8" stroke="#8e8e8e" stroke-width="0.7"/>
<rect x="382.15" y="40.5" width="1.5" height="86.4" fill="#d4d4d4" stroke="#8e8e8e" stroke-width="0.7"/>
<rect x="340" y="41.2" width="61" height="2.8" fill="#dcdcdc" stroke="#9a9a9a" stroke-width="0.6"/>
<rect x="411.25" y="85" width="1.9" height="11.25" fill="#d4d4d4" stroke="#8e8e8e" stroke-width="0.7"/>
<rect x="411.25" y="107.5" width="1.9" height="19.4" fill="#d4d4d4" stroke="#8e8e8e" stroke-width="0.7"/>
<rect x="422.6" y="40.6" width="3" height="11.9" fill="#e2e2e2" stroke="#9a9a9a" stroke-width="0.6"/>
<rect x="422.9" y="61.9" width="2.7" height="21.85" fill="#e2e2e2" stroke="#9a9a9a" stroke-width="0.6"/>
<path d="M395.25 84.4L395.25 70.4A14 14 0 0 1 409.25 84.4" fill="none" stroke="#9a9a9a" stroke-width="0.7"/>
<path d="M412.2 96.25L401 96.25A11.2 11.2 0 0 0 412.2 107.45" fill="none" stroke="#9a9a9a" stroke-width="0.7"/>
<path d="M408.9 126.9L408.9 112.9A14 14 0 0 0 394.9 126.9" fill="none" stroke="#9a9a9a" stroke-width="0.7"/>
<path d="M382.6 114.4L371.6 114.4A11 11 0 0 1 382.6 103.4" fill="none" stroke="#9a9a9a" stroke-width="0.7"/>
<rect x="328" y="96.5" width="4" height="3" fill="none" stroke="#9a9a9a" stroke-width="0.6"/>
<rect x="382" y="97.5" width="2.5" height="4" fill="none" stroke="#777" stroke-width="0.6"/>
<rect x="429" y="83.45" width="10.4" height="1.9" fill="#d8d8d8" stroke="#8e8e8e" stroke-width="0.7"/>
<rect x="451.9" y="83.45" width="24.1" height="1.9" fill="#d8d8d8" stroke="#8e8e8e" stroke-width="0.7"/>
<rect x="534" y="83.45" width="23.5" height="1.9" fill="#d8d8d8" stroke="#8e8e8e" stroke-width="0.7"/>
<rect x="473.9" y="40.5" width="3.4" height="43.9" fill="#d4d4d4" stroke="#8e8e8e" stroke-width="0.7"/>
<rect x="471.2" y="40.6" width="2.8" height="11.9" fill="#e2e2e2" stroke="#9a9a9a" stroke-width="0.6"/>
<rect x="464.25" y="100.6" width="1.9" height="45" fill="#d4d4d4" stroke="#8e8e8e" stroke-width="0.7"/>
<rect x="446.25" y="106.05" width="18.95" height="1.9" fill="#d8d8d8" stroke="#8e8e8e" stroke-width="0.7"/>
<rect x="446.3" y="107" width="3" height="12.4" fill="#d4d4d4" stroke="#8e8e8e" stroke-width="0.7"/>
<rect x="446.3" y="130.6" width="3" height="15" fill="#d4d4d4" stroke="#8e8e8e" stroke-width="0.7"/>
<rect x="465" y="142.5" width="47.5" height="3.3" fill="#dcdcdc" stroke="#9a9a9a" stroke-width="0.6"/>
<path d="M439.4 84.4L439.4 70.4A14 14 0 0 1 453.4 84.4" fill="none" stroke="#9a9a9a" stroke-width="0.7"/>
<path d="M446.25 119.4L435.05 119.4A11.2 11.2 0 0 0 446.25 130.6" fill="none" stroke="#9a9a9a" stroke-width="0.7"/>
<path d="M465.2 87.1L478.7 87.1A13.5 13.5 0 0 1 465.2 100.6" fill="none" stroke="#9a9a9a" stroke-width="0.7"/>
<path d="M430 146L430 131.5A14.5 14.5 0 0 1 444.5 146" fill="none" stroke="#9a9a9a" stroke-width="0.7"/>
<rect x="464" y="84.6" width="10" height="1.6" fill="#ccc" stroke="#888" stroke-width="0.5"/>
<rect x="382.15" y="169" width="1.5" height="12.25" fill="#d4d4d4" stroke="#8e8e8e" stroke-width="0.7"/>
<rect x="382.15" y="225.6" width="1.5" height="32.8" fill="#d4d4d4" stroke="#8e8e8e" stroke-width="0.7"/>
<rect x="284.75" y="213.45" width="71.25" height="1.9" fill="#d8d8d8" stroke="#8e8e8e" stroke-width="0.7"/>
<rect x="356" y="210.55" width="39" height="1.9" fill="#d8d8d8" stroke="#8e8e8e" stroke-width="0.7"/>
<rect x="408" y="210.55" width="17.6" height="1.9" fill="#d8d8d8" stroke="#8e8e8e" stroke-width="0.7"/>
<rect x="423.4" y="212.5" width="2.2" height="20.5" fill="#e2e2e2" stroke="#9a9a9a" stroke-width="0.6"/>
<rect x="411.15" y="169" width="1.9" height="19.1" fill="#d4d4d4" stroke="#8e8e8e" stroke-width="0.7"/>
<rect x="411.15" y="199.4" width="1.9" height="12.1" fill="#d4d4d4" stroke="#8e8e8e" stroke-width="0.7"/>
<path d="M409 169L409 183A14 14 0 0 1 395 169" fill="none" stroke="#9a9a9a" stroke-width="0.7"/>
<path d="M412.1 199.4L400.8 199.4A11.3 11.3 0 0 1 412.1 188.1" fill="none" stroke="#9a9a9a" stroke-width="0.7"/>
<path d="M395.25 211.5L395.25 225A13.5 13.5 0 0 0 408.75 211.5" fill="none" stroke="#9a9a9a" stroke-width="0.7"/>
<path d="M382.75 181.25L371.75 181.25A11 11 0 0 0 382.75 192.25" fill="none" stroke="#9a9a9a" stroke-width="0.7"/>
<rect x="340" y="255.3" width="85.6" height="3.1" fill="#dcdcdc" stroke="#9a9a9a" stroke-width="0.6"/>
<rect x="340" y="262" width="85.6" height="3.3" fill="#dcdcdc" stroke="#9a9a9a" stroke-width="0.6"/>
<rect x="464.3" y="150" width="1.9" height="44.4" fill="#d4d4d4" stroke="#8e8e8e" stroke-width="0.7"/>
<rect x="446.25" y="187.55" width="19" height="1.9" fill="#d8d8d8" stroke="#8e8e8e" stroke-width="0.7"/>
<rect x="446.3" y="176.25" width="3" height="12.25" fill="#d4d4d4" stroke="#8e8e8e" stroke-width="0.7"/>
<rect x="446.3" y="150" width="3" height="15" fill="#d4d4d4" stroke="#8e8e8e" stroke-width="0.7"/>
<rect x="465" y="149.8" width="47.5" height="3.3" fill="#dcdcdc" stroke="#9a9a9a" stroke-width="0.6"/>
<rect x="429" y="210.3" width="10.4" height="1.9" fill="#d8d8d8" stroke="#8e8e8e" stroke-width="0.7"/>
<rect x="452.25" y="210.3" width="23.75" height="1.9" fill="#d8d8d8" stroke="#8e8e8e" stroke-width="0.7"/>
<rect x="534" y="210.65" width="23.5" height="1.9" fill="#d8d8d8" stroke="#8e8e8e" stroke-width="0.7"/>
<rect x="474.3" y="211.25" width="3.4" height="47.15" fill="#d4d4d4" stroke="#8e8e8e" stroke-width="0.7"/>
<rect x="429" y="255.3" width="45.3" height="3.1" fill="#dcdcdc" stroke="#9a9a9a" stroke-width="0.6"/>
<rect x="429" y="262" width="45.3" height="3.3" fill="#dcdcdc" stroke="#9a9a9a" stroke-width="0.6"/>
<path d="M430 150L430 164.5A14.5 14.5 0 0 0 444.5 150" fill="none" stroke="#9a9a9a" stroke-width="0.7"/>
<path d="M446.25 176.25L435.05 176.25A11.2 11.2 0 0 1 446.25 165.05" fill="none" stroke="#9a9a9a" stroke-width="0.7"/>
<path d="M465.25 207.9L478.75 207.9A13.5 13.5 0 0 0 465.25 194.4" fill="none" stroke="#9a9a9a" stroke-width="0.7"/>
<path d="M439.4 211.25L439.4 224.75A13.5 13.5 0 0 0 452.9 211.25" fill="none" stroke="#9a9a9a" stroke-width="0.7"/>
<rect x="464" y="209" width="10" height="1.4" fill="#ccc" stroke="#888" stroke-width="0.5"/>
<rect x="284.75" y="306.65" width="71.25" height="1.9" fill="#d8d8d8" stroke="#8e8e8e" stroke-width="0.7"/>
<rect x="356" y="308.25" width="39.25" height="1.9" fill="#d8d8d8" stroke="#8e8e8e" stroke-width="0.7"/>
<rect x="408" y="308.25" width="17.6" height="1.9" fill="#d8d8d8" stroke="#8e8e8e" stroke-width="0.7"/>
<rect x="382.15" y="261.8" width="1.5" height="89.9" fill="#d4d4d4" stroke="#8e8e8e" stroke-width="0.7"/>
<rect x="411.25" y="309.8" width="1.9" height="11.25" fill="#d4d4d4" stroke="#8e8e8e" stroke-width="0.7"/>
<rect x="411.25" y="332.3" width="1.9" height="19.4" fill="#d4d4d4" stroke="#8e8e8e" stroke-width="0.7"/>
<rect x="422.9" y="286.7" width="2.7" height="21.85" fill="#e2e2e2" stroke="#9a9a9a" stroke-width="0.6"/>
<path d="M395.25 309.2L395.25 295.2A14 14 0 0 1 409.25 309.2" fill="none" stroke="#9a9a9a" stroke-width="0.7"/>
<path d="M412.2 321.05L401 321.05A11.2 11.2 0 0 0 412.2 332.25" fill="none" stroke="#9a9a9a" stroke-width="0.7"/>
<path d="M408.9 351.7L408.9 337.7A14 14 0 0 0 394.9 351.7" fill="none" stroke="#9a9a9a" stroke-width="0.7"/>
<path d="M382.6 339.2L371.6 339.2A11 11 0 0 1 382.6 328.2" fill="none" stroke="#9a9a9a" stroke-width="0.7"/>
<rect x="328" y="321.3" width="4" height="3" fill="none" stroke="#9a9a9a" stroke-width="0.6"/>
<rect x="382" y="322.3" width="2.5" height="4" fill="none" stroke="#777" stroke-width="0.6"/>
<rect x="429" y="308.25" width="10.4" height="1.9" fill="#d8d8d8" stroke="#8e8e8e" stroke-width="0.7"/>
<rect x="451.9" y="308.25" width="24.1" height="1.9" fill="#d8d8d8" stroke="#8e8e8e" stroke-width="0.7"/>
<rect x="534" y="308.25" width="23.5" height="1.9" fill="#d8d8d8" stroke="#8e8e8e" stroke-width="0.7"/>
<rect x="473.9" y="261.8" width="3.4" height="47.4" fill="#d4d4d4" stroke="#8e8e8e" stroke-width="0.7"/>
<rect x="429" y="262.1" width="45" height="3.1" fill="#dcdcdc" stroke="#9a9a9a" stroke-width="0.6"/>
<rect x="464.25" y="325.4" width="1.9" height="45" fill="#d4d4d4" stroke="#8e8e8e" stroke-width="0.7"/>
<rect x="446.25" y="330.85" width="18.95" height="1.9" fill="#d8d8d8" stroke="#8e8e8e" stroke-width="0.7"/>
<rect x="446.3" y="331.8" width="3" height="12.4" fill="#d4d4d4" stroke="#8e8e8e" stroke-width="0.7"/>
<rect x="446.3" y="355.4" width="3" height="15" fill="#d4d4d4" stroke="#8e8e8e" stroke-width="0.7"/>
<rect x="465" y="367.3" width="47.5" height="3.3" fill="#dcdcdc" stroke="#9a9a9a" stroke-width="0.6"/>
<path d="M439.4 309.2L439.4 295.2A14 14 0 0 1 453.4 309.2" fill="none" stroke="#9a9a9a" stroke-width="0.7"/>
<path d="M446.25 344.2L435.05 344.2A11.2 11.2 0 0 0 446.25 355.4" fill="none" stroke="#9a9a9a" stroke-width="0.7"/>
<path d="M465.2 311.9L478.7 311.9A13.5 13.5 0 0 1 465.2 325.4" fill="none" stroke="#9a9a9a" stroke-width="0.7"/>
<path d="M430 370.8L430 356.3A14.5 14.5 0 0 1 444.5 370.8" fill="none" stroke="#9a9a9a" stroke-width="0.7"/>
<rect x="464" y="309.4" width="10" height="1.6" fill="#ccc" stroke="#888" stroke-width="0.5"/>
<rect x="382.15" y="393.8" width="1.5" height="12.25" fill="#d4d4d4" stroke="#8e8e8e" stroke-width="0.7"/>
<rect x="382.15" y="450.4" width="1.5" height="32.3" fill="#d4d4d4" stroke="#8e8e8e" stroke-width="0.7"/>
<rect x="284.75" y="438.25" width="71.25" height="1.9" fill="#d8d8d8" stroke="#8e8e8e" stroke-width="0.7"/>
<rect x="356" y="435.35" width="39" height="1.9" fill="#d8d8d8" stroke="#8e8e8e" stroke-width="0.7"/>
<rect x="408" y="435.35" width="17.6" height="1.9" fill="#d8d8d8" stroke="#8e8e8e" stroke-width="0.7"/>
<rect x="423.4" y="437.3" width="2.2" height="20.5" fill="#e2e2e2" stroke="#9a9a9a" stroke-width="0.6"/>
<rect x="411.15" y="393.8" width="1.9" height="19.1" fill="#d4d4d4" stroke="#8e8e8e" stroke-width="0.7"/>
<rect x="411.15" y="424.2" width="1.9" height="12.1" fill="#d4d4d4" stroke="#8e8e8e" stroke-width="0.7"/>
<path d="M409 393.8L409 407.8A14 14 0 0 1 395 393.8" fill="none" stroke="#9a9a9a" stroke-width="0.7"/>
<path d="M412.1 424.2L400.8 424.2A11.3 11.3 0 0 1 412.1 412.9" fill="none" stroke="#9a9a9a" stroke-width="0.7"/>
<path d="M395.25 436.3L395.25 449.8A13.5 13.5 0 0 0 408.75 436.3" fill="none" stroke="#9a9a9a" stroke-width="0.7"/>
<path d="M382.75 406.05L371.75 406.05A11 11 0 0 0 382.75 417.05" fill="none" stroke="#9a9a9a" stroke-width="0.7"/>
<rect x="340" y="479.6" width="85.6" height="3.1" fill="#dcdcdc" stroke="#9a9a9a" stroke-width="0.6"/>
<rect x="340" y="486.3" width="85.6" height="3.3" fill="#dcdcdc" stroke="#9a9a9a" stroke-width="0.6"/>
<rect x="464.3" y="374.8" width="1.9" height="44.4" fill="#d4d4d4" stroke="#8e8e8e" stroke-width="0.7"/>
<rect x="446.25" y="412.35" width="19" height="1.9" fill="#d8d8d8" stroke="#8e8e8e" stroke-width="0.7"/>
<rect x="446.3" y="401.05" width="3" height="12.25" fill="#d4d4d4" stroke="#8e8e8e" stroke-width="0.7"/>
<rect x="446.3" y="374.8" width="3" height="15" fill="#d4d4d4" stroke="#8e8e8e" stroke-width="0.7"/>
<rect x="465" y="374.6" width="47.5" height="3.3" fill="#dcdcdc" stroke="#9a9a9a" stroke-width="0.6"/>
<rect x="429" y="435.1" width="10.4" height="1.9" fill="#d8d8d8" stroke="#8e8e8e" stroke-width="0.7"/>
<rect x="452.25" y="435.1" width="23.75" height="1.9" fill="#d8d8d8" stroke="#8e8e8e" stroke-width="0.7"/>
<rect x="534" y="435.45" width="23.5" height="1.9" fill="#d8d8d8" stroke="#8e8e8e" stroke-width="0.7"/>
<rect x="474.3" y="436.05" width="3.4" height="46.65" fill="#d4d4d4" stroke="#8e8e8e" stroke-width="0.7"/>
<rect x="429" y="479.6" width="45.3" height="3.1" fill="#dcdcdc" stroke="#9a9a9a" stroke-width="0.6"/>
<rect x="429" y="486.3" width="45.3" height="3.3" fill="#dcdcdc" stroke="#9a9a9a" stroke-width="0.6"/>
<path d="M430 374.8L430 389.3A14.5 14.5 0 0 0 444.5 374.8" fill="none" stroke="#9a9a9a" stroke-width="0.7"/>
<path d="M446.25 401.05L435.05 401.05A11.2 11.2 0 0 1 446.25 389.85" fill="none" stroke="#9a9a9a" stroke-width="0.7"/>
<path d="M465.25 432.7L478.75 432.7A13.5 13.5 0 0 0 465.25 419.2" fill="none" stroke="#9a9a9a" stroke-width="0.7"/>
<path d="M439.4 436.05L439.4 449.55A13.5 13.5 0 0 0 452.9 436.05" fill="none" stroke="#9a9a9a" stroke-width="0.7"/>
<rect x="464" y="433.8" width="10" height="1.4" fill="#ccc" stroke="#888" stroke-width="0.5"/>
<rect x="284.75" y="531.45" width="71.25" height="1.9" fill="#d8d8d8" stroke="#8e8e8e" stroke-width="0.7"/>
<rect x="356" y="533.05" width="39.25" height="1.9" fill="#d8d8d8" stroke="#8e8e8e" stroke-width="0.7"/>
<rect x="408" y="533.05" width="17.6" height="1.9" fill="#d8d8d8" stroke="#8e8e8e" stroke-width="0.7"/>
<rect x="382.15" y="486.6" width="1.5" height="89.9" fill="#d4d4d4" stroke="#8e8e8e" stroke-width="0.7"/>
<rect x="411.25" y="534.6" width="1.9" height="11.25" fill="#d4d4d4" stroke="#8e8e8e" stroke-width="0.7"/>
<rect x="411.25" y="557.1" width="1.9" height="19.4" fill="#d4d4d4" stroke="#8e8e8e" stroke-width="0.7"/>
<rect x="422.9" y="511.5" width="2.7" height="21.85" fill="#e2e2e2" stroke="#9a9a9a" stroke-width="0.6"/>
<path d="M395.25 534L395.25 520A14 14 0 0 1 409.25 534" fill="none" stroke="#9a9a9a" stroke-width="0.7"/>
<path d="M412.2 545.85L401 545.85A11.2 11.2 0 0 0 412.2 557.05" fill="none" stroke="#9a9a9a" stroke-width="0.7"/>
<path d="M408.9 576.5L408.9 562.5A14 14 0 0 0 394.9 576.5" fill="none" stroke="#9a9a9a" stroke-width="0.7"/>
<path d="M382.6 564L371.6 564A11 11 0 0 1 382.6 553" fill="none" stroke="#9a9a9a" stroke-width="0.7"/>
<rect x="328" y="546.1" width="4" height="3" fill="none" stroke="#9a9a9a" stroke-width="0.6"/>
<rect x="382" y="547.1" width="2.5" height="4" fill="none" stroke="#777" stroke-width="0.6"/>
<rect x="429" y="533.05" width="10.4" height="1.9" fill="#d8d8d8" stroke="#8e8e8e" stroke-width="0.7"/>
<rect x="451.9" y="533.05" width="24.1" height="1.9" fill="#d8d8d8" stroke="#8e8e8e" stroke-width="0.7"/>
<rect x="534" y="533.05" width="23.5" height="1.9" fill="#d8d8d8" stroke="#8e8e8e" stroke-width="0.7"/>
<rect x="473.9" y="486.6" width="3.4" height="47.4" fill="#d4d4d4" stroke="#8e8e8e" stroke-width="0.7"/>
<rect x="429" y="486.9" width="45" height="3.1" fill="#dcdcdc" stroke="#9a9a9a" stroke-width="0.6"/>
<rect x="464.25" y="550.2" width="1.9" height="45" fill="#d4d4d4" stroke="#8e8e8e" stroke-width="0.7"/>
<rect x="446.25" y="555.65" width="18.95" height="1.9" fill="#d8d8d8" stroke="#8e8e8e" stroke-width="0.7"/>
<rect x="446.3" y="556.6" width="3" height="12.4" fill="#d4d4d4" stroke="#8e8e8e" stroke-width="0.7"/>
<rect x="446.3" y="580.2" width="3" height="15" fill="#d4d4d4" stroke="#8e8e8e" stroke-width="0.7"/>
<rect x="465" y="592.1" width="47.5" height="3.3" fill="#dcdcdc" stroke="#9a9a9a" stroke-width="0.6"/>
<path d="M439.4 534L439.4 520A14 14 0 0 1 453.4 534" fill="none" stroke="#9a9a9a" stroke-width="0.7"/>
<path d="M446.25 569L435.05 569A11.2 11.2 0 0 0 446.25 580.2" fill="none" stroke="#9a9a9a" stroke-width="0.7"/>
<path d="M465.2 536.7L478.7 536.7A13.5 13.5 0 0 1 465.2 550.2" fill="none" stroke="#9a9a9a" stroke-width="0.7"/>
<path d="M430 595.6L430 581.1A14.5 14.5 0 0 1 444.5 595.6" fill="none" stroke="#9a9a9a" stroke-width="0.7"/>
<rect x="464" y="534.2" width="10" height="1.6" fill="#ccc" stroke="#888" stroke-width="0.5"/>
<line x1="326.5" y1="131.3" x2="326.5" y2="144.3" stroke="#333" stroke-width="1"/>
<line x1="330.5" y1="131.3" x2="330.5" y2="144.3" stroke="#333" stroke-width="1"/>
<line x1="333.5" y1="131.3" x2="333.5" y2="144.3" stroke="#333" stroke-width="1"/>
<line x1="336.5" y1="131.3" x2="336.5" y2="144.3" stroke="#333" stroke-width="1"/>
<line x1="340.5" y1="131.3" x2="340.5" y2="144.3" stroke="#333" stroke-width="1"/>
<line x1="343.5" y1="131.3" x2="343.5" y2="144.3" stroke="#333" stroke-width="1"/>
<line x1="346.5" y1="131.3" x2="346.5" y2="144.3" stroke="#333" stroke-width="1"/>
<line x1="350.5" y1="131.3" x2="350.5" y2="144.3" stroke="#333" stroke-width="1"/>
<line x1="353.5" y1="131.3" x2="353.5" y2="144.3" stroke="#333" stroke-width="1"/>
<line x1="325.6" y1="131.7" x2="353.6" y2="131.7" stroke="#222" stroke-width="0.8"/>
<line x1="324.6" y1="137.8" x2="349.6" y2="137.8" stroke="#222" stroke-width="0.7"/>
<line x1="325.6" y1="144.1" x2="348.6" y2="144.1" stroke="#222" stroke-width="1.1"/>
<line x1="348.6" y1="144.1" x2="391.6" y2="144.1" stroke="#222" stroke-width="1" stroke-dasharray="5 1.5"/>
<line x1="353.6" y1="131.7" x2="391.6" y2="131.7" stroke="#444" stroke-width="0.8" stroke-dasharray="3 2"/>
<line x1="347.6" y1="144.3" x2="353.6" y2="131.3" stroke="#444" stroke-width="0.8"/>
<line x1="384.1" y1="131.3" x2="384.1" y2="144.3" stroke="#333" stroke-width="0.7" stroke-dasharray="2.5 1.5"/>
<line x1="387.6" y1="131.3" x2="387.6" y2="144.3" stroke="#333" stroke-width="0.7" stroke-dasharray="2.5 1.5"/>
<line x1="391.1" y1="131.3" x2="391.1" y2="144.3" stroke="#333" stroke-width="0.7" stroke-dasharray="2.5 1.5"/>
<polygon points="400.3,133.82 404.7,133.82 402.5,130.52" fill="#111"/>
<polygon points="400.3,161.18 404.7,161.18 402.5,164.48" fill="#111"/>
<polygon points="423.08,136.1 423.08,140.5 426.38,138.3" fill="#111"/>
<polygon points="423.08,155.3 423.08,159.7 426.38,157.5" fill="#111"/>
<line x1="326.5" y1="356.15" x2="326.5" y2="369.15" stroke="#333" stroke-width="1"/>
<line x1="330.5" y1="356.15" x2="330.5" y2="369.15" stroke="#333" stroke-width="1"/>
<line x1="333.5" y1="356.15" x2="333.5" y2="369.15" stroke="#333" stroke-width="1"/>
<line x1="336.5" y1="356.15" x2="336.5" y2="369.15" stroke="#333" stroke-width="1"/>
<line x1="340.5" y1="356.15" x2="340.5" y2="369.15" stroke="#333" stroke-width="1"/>
<line x1="343.5" y1="356.15" x2="343.5" y2="369.15" stroke="#333" stroke-width="1"/>
<line x1="346.5" y1="356.15" x2="346.5" y2="369.15" stroke="#333" stroke-width="1"/>
<line x1="350.5" y1="356.15" x2="350.5" y2="369.15" stroke="#333" stroke-width="1"/>
<line x1="353.5" y1="356.15" x2="353.5" y2="369.15" stroke="#333" stroke-width="1"/>
<line x1="325.6" y1="356.55" x2="353.6" y2="356.55" stroke="#222" stroke-width="0.8"/>
<line x1="324.6" y1="362.65" x2="349.6" y2="362.65" stroke="#222" stroke-width="0.7"/>
<line x1="325.6" y1="368.95" x2="348.6" y2="368.95" stroke="#222" stroke-width="1.1"/>
<line x1="348.6" y1="368.95" x2="391.6" y2="368.95" stroke="#222" stroke-width="1" stroke-dasharray="5 1.5"/>
<line x1="353.6" y1="356.55" x2="391.6" y2="356.55" stroke="#444" stroke-width="0.8" stroke-dasharray="3 2"/>
<line x1="347.6" y1="369.15" x2="353.6" y2="356.15" stroke="#444" stroke-width="0.8"/>
<line x1="384.1" y1="356.15" x2="384.1" y2="369.15" stroke="#333" stroke-width="0.7" stroke-dasharray="2.5 1.5"/>
<line x1="387.6" y1="356.15" x2="387.6" y2="369.15" stroke="#333" stroke-width="0.7" stroke-dasharray="2.5 1.5"/>
<line x1="391.1" y1="356.15" x2="391.1" y2="369.15" stroke="#333" stroke-width="0.7" stroke-dasharray="2.5 1.5"/>
<polygon points="400.3,358.67 404.7,358.67 402.5,355.37" fill="#111"/>
<polygon points="400.3,386.03 404.7,386.03 402.5,389.33" fill="#111"/>
<polygon points="423.08,360.95 423.08,365.35 426.38,363.15" fill="#111"/>
<polygon points="423.08,380.15 423.08,384.55 426.38,382.35" fill="#111"/>
<line x1="326.5" y1="581" x2="326.5" y2="594" stroke="#333" stroke-width="1"/>
<line x1="330.5" y1="581" x2="330.5" y2="594" stroke="#333" stroke-width="1"/>
<line x1="333.5" y1="581" x2="333.5" y2="594" stroke="#333" stroke-width="1"/>
<line x1="336.5" y1="581" x2="336.5" y2="594" stroke="#333" stroke-width="1"/>
<line x1="340.5" y1="581" x2="340.5" y2="594" stroke="#333" stroke-width="1"/>
<line x1="343.5" y1="581" x2="343.5" y2="594" stroke="#333" stroke-width="1"/>
<line x1="346.5" y1="581" x2="346.5" y2="594" stroke="#333" stroke-width="1"/>
<line x1="350.5" y1="581" x2="350.5" y2="594" stroke="#333" stroke-width="1"/>
<line x1="353.5" y1="581" x2="353.5" y2="594" stroke="#333" stroke-width="1"/>
<line x1="325.6" y1="581.4" x2="353.6" y2="581.4" stroke="#222" stroke-width="0.8"/>
<line x1="324.6" y1="587.5" x2="349.6" y2="587.5" stroke="#222" stroke-width="0.7"/>
<line x1="325.6" y1="593.8" x2="348.6" y2="593.8" stroke="#222" stroke-width="1.1"/>
<line x1="348.6" y1="593.8" x2="391.6" y2="593.8" stroke="#222" stroke-width="1" stroke-dasharray="5 1.5"/>
<line x1="353.6" y1="581.4" x2="391.6" y2="581.4" stroke="#444" stroke-width="0.8" stroke-dasharray="3 2"/>
<line x1="347.6" y1="594" x2="353.6" y2="581" stroke="#444" stroke-width="0.8"/>
<line x1="384.1" y1="581" x2="384.1" y2="594" stroke="#333" stroke-width="0.7" stroke-dasharray="2.5 1.5"/>
<line x1="387.6" y1="581" x2="387.6" y2="594" stroke="#333" stroke-width="0.7" stroke-dasharray="2.5 1.5"/>
<line x1="391.1" y1="581" x2="391.1" y2="594" stroke="#333" stroke-width="0.7" stroke-dasharray="2.5 1.5"/>
<polygon points="400.3,583.52 404.7,583.52 402.5,580.22" fill="#111"/>
<polygon points="400.3,610.88 404.7,610.88 402.5,614.18" fill="#111"/>
<polygon points="423.08,585.8 423.08,590.2 426.38,588" fill="#111"/>
<polygon points="423.08,605 423.08,609.4 426.38,607.2" fill="#111"/>
<rect x="382.15" y="618.5" width="1.5" height="11.5" fill="#d4d4d4" stroke="#8e8e8e" stroke-width="0.7"/>
<rect x="382.15" y="696" width="1.5" height="26.3" fill="#d4d4d4" stroke="#8e8e8e" stroke-width="0.7"/>
<rect x="411.15" y="618.5" width="1.9" height="19.5" fill="#d4d4d4" stroke="#8e8e8e" stroke-width="0.7"/>
<rect x="411.15" y="649.4" width="1.9" height="25" fill="#d4d4d4" stroke="#8e8e8e" stroke-width="0.7"/>
<rect x="284.75" y="662.15" width="71.25" height="1.9" fill="#d8d8d8" stroke="#8e8e8e" stroke-width="0.7"/>
<rect x="356" y="674.65" width="39" height="1.9" fill="#d8d8d8" stroke="#8e8e8e" stroke-width="0.7"/>
<rect x="408" y="674.65" width="17.6" height="1.9" fill="#d8d8d8" stroke="#8e8e8e" stroke-width="0.7"/>
<rect x="423.4" y="676.5" width="2.2" height="20.5" fill="#e2e2e2" stroke="#9a9a9a" stroke-width="0.6"/>
<rect x="328.75" y="643.75" width="55" height="2.5" fill="#e8e8e8" stroke="#9a9a9a" stroke-width="0.6"/>
<path d="M409 618.5L409 632.5A14 14 0 0 1 395 618.5" fill="none" stroke="#9a9a9a" stroke-width="0.7"/>
<path d="M412.1 649.4L400.8 649.4A11.3 11.3 0 0 1 412.1 638.1" fill="none" stroke="#9a9a9a" stroke-width="0.7"/>
<path d="M382.75 630L371.75 630A11 11 0 0 0 382.75 641" fill="none" stroke="#9a9a9a" stroke-width="0.7"/>
<path d="M395.25 675.6L395.25 689.1A13.5 13.5 0 0 0 408.75 675.6" fill="none" stroke="#9a9a9a" stroke-width="0.7"/>
<rect x="340" y="719.3" width="85.6" height="3" fill="#dcdcdc" stroke="#9a9a9a" stroke-width="0.6"/>
<rect x="464.3" y="600" width="1.9" height="43.1" fill="#d4d4d4" stroke="#8e8e8e" stroke-width="0.7"/>
<rect x="446.25" y="636.55" width="19" height="1.9" fill="#d8d8d8" stroke="#8e8e8e" stroke-width="0.7"/>
<rect x="446.3" y="600" width="3" height="13.75" fill="#d4d4d4" stroke="#8e8e8e" stroke-width="0.7"/>
<rect x="446.3" y="625" width="3" height="12.5" fill="#d4d4d4" stroke="#8e8e8e" stroke-width="0.7"/>
<rect x="465" y="599.5" width="47.5" height="3.1" fill="#dcdcdc" stroke="#9a9a9a" stroke-width="0.6"/>
<line x1="465" y1="657.5" x2="476" y2="657.5" stroke="#9a9a9a" stroke-width="0.7"/>
<rect x="464.2" y="657.5" width="1.6" height="16.9" fill="#d4d4d4" stroke="#8e8e8e" stroke-width="0.7"/>
<rect x="429" y="674.65" width="10.4" height="1.9" fill="#d8d8d8" stroke="#8e8e8e" stroke-width="0.7"/>
<rect x="452.25" y="674.65" width="23.75" height="1.9" fill="#d8d8d8" stroke="#8e8e8e" stroke-width="0.7"/>
<rect x="534" y="674.65" width="23.5" height="1.9" fill="#d8d8d8" stroke="#8e8e8e" stroke-width="0.7"/>
<rect x="474.3" y="675.6" width="3.4" height="46.7" fill="#d4d4d4" stroke="#8e8e8e" stroke-width="0.7"/>
<rect x="429" y="719.3" width="45.3" height="3" fill="#dcdcdc" stroke="#9a9a9a" stroke-width="0.6"/>
<path d="M430 600L430 614.5A14.5 14.5 0 0 0 444.5 600" fill="none" stroke="#9a9a9a" stroke-width="0.7"/>
<path d="M446.25 624.4L435.05 624.4A11.2 11.2 0 0 1 446.25 613.2" fill="none" stroke="#9a9a9a" stroke-width="0.7"/>
<path d="M465.25 656.6L478.75 656.6A13.5 13.5 0 0 0 465.25 643.1" fill="none" stroke="#9a9a9a" stroke-width="0.7"/>
<path d="M439.4 675.6L439.4 689.1A13.5 13.5 0 0 0 452.9 675.6" fill="none" stroke="#9a9a9a" stroke-width="0.7"/>
<rect x="306.25" y="726.2" width="48.75" height="3.55" fill="#dcdcdc" stroke="#9a9a9a" stroke-width="0.6"/>
<rect x="377.5" y="726.2" width="48.1" height="3.55" fill="#dcdcdc" stroke="#9a9a9a" stroke-width="0.6"/>
<rect x="352.5" y="726" width="3" height="30.25" fill="#d4d4d4" stroke="#8e8e8e" stroke-width="0.7"/>
<rect x="368" y="754.3" width="9" height="1.9" fill="#d8d8d8" stroke="#8e8e8e" stroke-width="0.7"/>
<rect x="376.9" y="726" width="3" height="46.5" fill="#d4d4d4" stroke="#8e8e8e" stroke-width="0.7"/>
<rect x="380" y="771.95" width="20" height="1.9" fill="#d8d8d8" stroke="#8e8e8e" stroke-width="0.7"/>
<rect x="392.5" y="772.9" width="3" height="6.5" fill="#d4d4d4" stroke="#8e8e8e" stroke-width="0.7"/>
<line x1="384" y1="779.4" x2="392.5" y2="779.4" stroke="#9a9a9a" stroke-width="0.7"/>
<rect x="412.5" y="771.9" width="18.1" height="2.1" fill="#000"/>
<rect x="392.5" y="793.75" width="3" height="20" fill="#d4d4d4" stroke="#8e8e8e" stroke-width="0.7"/>
<rect x="284.75" y="809.8" width="110.85" height="2.4" fill="#d8d8d8" stroke="#8e8e8e" stroke-width="0.7"/>
<rect x="351.25" y="831.25" width="1.9" height="28.75" fill="#d4d4d4" stroke="#8e8e8e" stroke-width="0.7"/>
<rect x="351.25" y="831.4" width="14.35" height="2.2" fill="#d8d8d8" stroke="#8e8e8e" stroke-width="0.7"/>
<rect x="377.5" y="831.4" width="18.1" height="2.2" fill="#d8d8d8" stroke="#8e8e8e" stroke-width="0.7"/>
<rect x="393" y="828.5" width="2.6" height="31.5" fill="#d4d4d4" stroke="#8e8e8e" stroke-width="0.7"/>
<rect x="351.25" y="857.5" width="44.35" height="2.8" fill="#dcdcdc" stroke="#9a9a9a" stroke-width="0.6"/>
<path d="M357.25 756L357.25 743.5A12.5 12.5 0 0 1 369.75 756" fill="none" stroke="#9a9a9a" stroke-width="0.7"/>
<path d="M412.5 772.9L412.5 759.4A13.5 13.5 0 0 0 399 772.9" fill="none" stroke="#9a9a9a" stroke-width="0.7"/>
<path d="M394.4 814.4L379.9 814.4A14.5 14.5 0 0 0 394.4 828.9" fill="none" stroke="#9a9a9a" stroke-width="0.7"/>
<path d="M377.5 833L377.5 845.5A12.5 12.5 0 0 1 365 833" fill="none" stroke="#9a9a9a" stroke-width="0.7"/>
<path d="M424.4 860.6L424.4 846.3A14.3 14.3 0 0 0 410.1 860.6" fill="none" stroke="#9a9a9a" stroke-width="0.7"/>
<rect x="232.25" y="723.5" width="44.25" height="6.75" fill="#fff" stroke="#8a8a8a" stroke-width="0.6"/>
<line x1="232.25" y1="726.9" x2="276.5" y2="726.9" stroke="#999" stroke-width="0.6"/>
<line x1="238" y1="723.5" x2="238" y2="730.25" stroke="#aaa" stroke-width="0.6"/>
<line x1="246" y1="723.5" x2="246" y2="730.25" stroke="#aaa" stroke-width="0.6"/>
<line x1="252" y1="723.5" x2="252" y2="730.25" stroke="#aaa" stroke-width="0.6"/>
<line x1="260" y1="723.5" x2="260" y2="730.25" stroke="#aaa" stroke-width="0.6"/>
<line x1="267" y1="723.5" x2="267" y2="730.25" stroke="#aaa" stroke-width="0.6"/>
<rect x="429" y="726.2" width="128.5" height="3.55" fill="#dcdcdc" stroke="#9a9a9a" stroke-width="0.6"/>
<rect x="474.3" y="726" width="3.4" height="47.75" fill="#d4d4d4" stroke="#8e8e8e" stroke-width="0.7"/>
<rect x="443.1" y="771.95" width="34.65" height="1.9" fill="#d8d8d8" stroke="#8e8e8e" stroke-width="0.7"/>
<rect x="499.35" y="726" width="2.5" height="30.25" fill="#d4d4d4" stroke="#8e8e8e" stroke-width="0.7"/>
<rect x="490" y="754.3" width="11.9" height="1.9" fill="#d8d8d8" stroke="#8e8e8e" stroke-width="0.7"/>
<rect x="477.5" y="754" width="2.25" height="2.5" fill="#eee" stroke="#777" stroke-width="0.6"/>
<rect x="447.2" y="774.4" width="2.8" height="5" fill="#d4d4d4" stroke="#8e8e8e" stroke-width="0.7"/>
<rect x="447.3" y="793.75" width="3.2" height="18.75" fill="#d4d4d4" stroke="#8e8e8e" stroke-width="0.7"/>
<rect x="450" y="798.5" width="26" height="5" fill="#dcdcdc" stroke="#9a9a9a" stroke-width="0.6"/>
<rect x="534" y="798.45" width="23.5" height="1.9" fill="#d8d8d8" stroke="#8e8e8e" stroke-width="0.7"/>
<rect x="447.3" y="824.4" width="3.2" height="4.35" fill="#d4d4d4" stroke="#8e8e8e" stroke-width="0.7"/>
<rect x="447.25" y="825" width="48.35" height="2.4" fill="#d8d8d8" stroke="#8e8e8e" stroke-width="0.7"/>
<rect x="493.1" y="820.6" width="2.4" height="6.9" fill="#d4d4d4" stroke="#8e8e8e" stroke-width="0.7"/>
<rect x="447.3" y="843.1" width="3.2" height="13.15" fill="#d4d4d4" stroke="#8e8e8e" stroke-width="0.7"/>
<rect x="447.25" y="852.2" width="110.25" height="3.4" fill="#d8d8d8" stroke="#8e8e8e" stroke-width="0.7"/>
<rect x="447.3" y="870.6" width="3.2" height="25.7" fill="#d4d4d4" stroke="#8e8e8e" stroke-width="0.7"/>
<path d="M479.4 756L479.4 743.5A12.5 12.5 0 0 1 491.9 756" fill="none" stroke="#9a9a9a" stroke-width="0.7"/>
<path d="M430 772.9L430 759.4A13.5 13.5 0 0 1 443.5 772.9" fill="none" stroke="#9a9a9a" stroke-width="0.7"/>
<path d="M450 779.4L464 779.4A14 14 0 0 1 450 793.4" fill="none" stroke="#9a9a9a" stroke-width="0.7"/>
<path d="M450.6 824.4L450.6 812.4A12 12 0 0 1 462.6 824.4" fill="none" stroke="#9a9a9a" stroke-width="0.7"/>
<path d="M450.6 828.75L464.6 828.75A14 14 0 0 1 450.6 842.75" fill="none" stroke="#9a9a9a" stroke-width="0.7"/>
<path d="M450.6 856.25L464.6 856.25A14 14 0 0 1 450.6 870.25" fill="none" stroke="#9a9a9a" stroke-width="0.7"/>
<path d="M517.25 896L517.25 887A13 9 0 0 1 530.25 896" fill="none" stroke="#9a9a9a" stroke-width="0.7" stroke-dasharray="4 1.5"/>
<rect x="425.2" y="870.7" width="4.8" height="14.2" fill="#eeeefd"/>
<path d="M429.6 884.9L443.9 884.9A14.3 14.3 0 0 0 429.6 870.6" fill="none" stroke="#9a9a9a" stroke-width="0.7"/>
<line x1="326.5" y1="882.2" x2="326.5" y2="896.2" stroke="#333" stroke-width="1"/>
<line x1="330.5" y1="882.2" x2="330.5" y2="896.2" stroke="#333" stroke-width="1"/>
<line x1="333.5" y1="882.2" x2="333.5" y2="896.2" stroke="#333" stroke-width="1"/>
<line x1="336.5" y1="882.2" x2="336.5" y2="896.2" stroke="#333" stroke-width="1"/>
<line x1="340.5" y1="882.2" x2="340.5" y2="896.2" stroke="#333" stroke-width="1"/>
<line x1="343.5" y1="882.2" x2="343.5" y2="896.2" stroke="#333" stroke-width="1"/>
<line x1="346.5" y1="882.2" x2="346.5" y2="896.2" stroke="#333" stroke-width="1"/>
<line x1="350.5" y1="882.2" x2="350.5" y2="896.2" stroke="#333" stroke-width="1"/>
<line x1="353.5" y1="882.2" x2="353.5" y2="896.2" stroke="#333" stroke-width="1"/>
<line x1="325.6" y1="882.5" x2="353.6" y2="882.5" stroke="#222" stroke-width="1"/>
<line x1="324.6" y1="889.2" x2="349.6" y2="889.2" stroke="#222" stroke-width="0.7"/>
<line x1="353.6" y1="882.5" x2="391.6" y2="882.5" stroke="#333" stroke-width="1" stroke-dasharray="5 2"/>
<line x1="346.6" y1="896.2" x2="353.6" y2="882.2" stroke="#444" stroke-width="0.8"/>
<line x1="383.1" y1="885.2" x2="383.1" y2="896.2" stroke="#333" stroke-width="0.7"/>
<line x1="390.6" y1="885.2" x2="390.6" y2="896.2" stroke="#333" stroke-width="0.7"/>
<line x1="383.1" y1="885.2" x2="390.6" y2="885.2" stroke="#333" stroke-width="0.7"/>
<line x1="382.6" y1="889.7" x2="387.6" y2="889.7" stroke="#333" stroke-width="0.7"/>
<polygon points="415.2,866.62 418.6,866.62 416.9,864.07" fill="#111"/>
<polygon points="423.58,876.3 423.58,880.7 426.88,878.5" fill="#111"/>
<rect x="307.25" y="905" width="38.35" height="93.5" fill="#ececec" stroke="#8a8a8a" stroke-width="0.7"/>
<rect x="310.4" y="904.5" width="32" height="90.9" fill="#fff" stroke="#8a8a8a" stroke-width="0.6"/>
<rect x="306.5" y="908.8" width="4.5" height="13.5" fill="#fff"/>
<rect x="308" y="904.2" width="37" height="1.3" fill="#fff"/>
<path d="M307.25 908.5L293.15 908.5A14.1 14.1 0 0 0 307.25 922.6" fill="none" stroke="#888" stroke-width="0.8"/>
<polygon points="303.6,912.6 303.6,918.8 307.6,915.7" fill="#111"/>
<line x1="310.6" y1="932" x2="323.75" y2="932" stroke="#555" stroke-width="0.6"/>
<line x1="328.75" y1="934" x2="342.5" y2="934" stroke="#777" stroke-width="0.6"/>
<line x1="310.6" y1="936" x2="323.75" y2="936" stroke="#555" stroke-width="0.6"/>
<line x1="328.75" y1="938" x2="342.5" y2="938" stroke="#777" stroke-width="0.6"/>
<line x1="310.6" y1="940" x2="323.75" y2="940" stroke="#555" stroke-width="0.6"/>
<line x1="328.75" y1="942" x2="342.5" y2="942" stroke="#777" stroke-width="0.6"/>
<line x1="310.6" y1="944" x2="323.75" y2="944" stroke="#555" stroke-width="0.6"/>
<line x1="328.75" y1="946" x2="342.5" y2="946" stroke="#777" stroke-width="0.6"/>
<line x1="310.6" y1="948" x2="323.75" y2="948" stroke="#555" stroke-width="0.6"/>
<line x1="328.75" y1="950" x2="342.5" y2="950" stroke="#777" stroke-width="0.6"/>
<line x1="310.6" y1="952" x2="323.75" y2="952" stroke="#555" stroke-width="0.6"/>
<line x1="328.75" y1="954" x2="342.5" y2="954" stroke="#777" stroke-width="0.6"/>
<line x1="310.6" y1="956" x2="323.75" y2="956" stroke="#555" stroke-width="0.6"/>
<line x1="328.75" y1="958" x2="342.5" y2="958" stroke="#777" stroke-width="0.6"/>
<line x1="310.6" y1="960" x2="323.75" y2="960" stroke="#555" stroke-width="0.6"/>
<line x1="328.75" y1="962" x2="342.5" y2="962" stroke="#777" stroke-width="0.6"/>
<line x1="310.6" y1="964" x2="323.75" y2="964" stroke="#555" stroke-width="0.6"/>
<line x1="311" y1="955" x2="324" y2="948" stroke="#666" stroke-width="0.7"/>
<line x1="323.75" y1="932" x2="323.75" y2="962" stroke="#444" stroke-width="0.8"/>
<line x1="311.3" y1="932" x2="311.3" y2="964" stroke="#444" stroke-width="0.8"/>
<line x1="341.8" y1="944" x2="341.8" y2="974" stroke="#666" stroke-width="0.8" stroke-dasharray="4 2"/>
<path d="M323.9 955 V963 H330.4 V944" fill="none" stroke="#666" stroke-width="1.1"/>
<path d="M317.25 962 V971.6 H335.25 V962" fill="none" stroke="#9a9a9a" stroke-width="0.7"/>
<line x1="313" y1="977.3" x2="342" y2="977.3" stroke="#bbb" stroke-width="2.2" stroke-dasharray="8.5 3"/>
<rect x="329.5" y="934" width="8" height="5.5" fill="#fff" stroke="#777" stroke-width="0.5"/>
<rect x="330.3" y="935" width="6.2" height="3.5" fill="#222"/>
<line x1="159" y1="932.1" x2="307.25" y2="932.1" stroke="#7a7a7a" stroke-width="1.1"/>
<rect x="176.25" y="898.3" width="95.75" height="8.5" fill="#f4f4f4" stroke="#8a8a8a" stroke-width="0.6"/>
<rect x="176.8" y="898.8" width="28.2" height="7.5" fill="#f6f6f6" stroke="#8a8a8a" stroke-width="0.6"/>
<rect x="261.25" y="898.8" width="10.75" height="7.5" fill="#f6f6f6" stroke="#8a8a8a" stroke-width="0.6"/>
<line x1="178" y1="901" x2="261" y2="901" stroke="#8a8a8a" stroke-width="0.6"/>
<line x1="178" y1="904.2" x2="261" y2="904.2" stroke="#8a8a8a" stroke-width="0.6"/>
<line x1="190" y1="900" x2="255" y2="905.2" stroke="#8a8a8a" stroke-width="0.6"/>
<rect x="271.9" y="898" width="10.1" height="9.5" fill="#000"/>
<rect x="275.6" y="892.5" width="9.15" height="5.5" fill="#000"/>
<path d="M285 72.1L292.8 72.1A7.8 13.3 0 0 0 285 58.8" fill="none" stroke="#9a9a9a" stroke-width="0.7" stroke-dasharray="5 1.2"/>
<line x1="279" y1="72.1" x2="285" y2="72.1" stroke="#9a9a9a" stroke-width="0.7"/>
<path d="M285 45.1L292.8 45.1A7.8 12 0 0 1 285 57.1" fill="none" stroke="#aaa" stroke-width="0.7" stroke-dasharray="1.2 2.2"/>
<path d="M285 83.9L299 83.9A14 19 0 0 1 285 102.9" fill="none" stroke="#9a9a9a" stroke-width="0.7" stroke-dasharray="3 1.5"/>
<path d="M285 161.25L292.8 161.25A7.8 12.5 0 0 0 285 148.75" fill="none" stroke="#9a9a9a" stroke-width="0.7" stroke-dasharray="5 1.2"/>
<line x1="279" y1="161.25" x2="285" y2="161.25" stroke="#9a9a9a" stroke-width="0.7"/>
<path d="M285 210.9L292.8 210.9A7.8 13.3 0 0 0 285 197.6" fill="none" stroke="#9a9a9a" stroke-width="0.7" stroke-dasharray="5 1.2"/>
<line x1="279" y1="210.9" x2="285" y2="210.9" stroke="#9a9a9a" stroke-width="0.7"/>
<path d="M285 244L292.8 244A7.8 13.3 0 0 0 285 230.7" fill="none" stroke="#9a9a9a" stroke-width="0.7" stroke-dasharray="5 1.2"/>
<line x1="279" y1="244" x2="285" y2="244" stroke="#9a9a9a" stroke-width="0.7"/>
<path d="M285 217.4L292.8 217.4A7.8 12 0 0 1 285 229.4" fill="none" stroke="#aaa" stroke-width="0.7" stroke-dasharray="1.2 2.2"/>
<path d="M285 296L292.8 296A7.8 13.3 0 0 0 285 282.7" fill="none" stroke="#9a9a9a" stroke-width="0.7" stroke-dasharray="5 1.2"/>
<line x1="279" y1="296" x2="285" y2="296" stroke="#9a9a9a" stroke-width="0.7"/>
<path d="M285 269L292.8 269A7.8 12 0 0 1 285 281" fill="none" stroke="#aaa" stroke-width="0.7" stroke-dasharray="1.2 2.2"/>
<path d="M285 347.75L292.8 347.75A7.8 12.25 0 0 0 285 335.5" fill="none" stroke="#9a9a9a" stroke-width="0.7" stroke-dasharray="5 1.2"/>
<line x1="279" y1="347.75" x2="285" y2="347.75" stroke="#9a9a9a" stroke-width="0.7"/>
<path d="M285 379L292.8 379A7.8 13 0 0 0 285 366" fill="none" stroke="#9a9a9a" stroke-width="0.7" stroke-dasharray="5 1.2"/>
<line x1="279" y1="379" x2="285" y2="379" stroke="#9a9a9a" stroke-width="0.7"/>
<path d="M285 436L292.8 436A7.8 13.3 0 0 0 285 422.7" fill="none" stroke="#9a9a9a" stroke-width="0.7" stroke-dasharray="5 1.2"/>
<line x1="279" y1="436" x2="285" y2="436" stroke="#9a9a9a" stroke-width="0.7"/>
<path d="M285 409L292.8 409A7.8 12 0 0 1 285 421" fill="none" stroke="#aaa" stroke-width="0.7" stroke-dasharray="1.2 2.2"/>
<path d="M285 441.95L292.8 441.95A7.8 12.5 0 0 1 285 454.45" fill="none" stroke="#9a9a9a" stroke-width="0.7"/>
<path d="M285 523.25L292.8 523.25A7.8 13.3 0 0 0 285 509.95" fill="none" stroke="#9a9a9a" stroke-width="0.7" stroke-dasharray="5 1.2"/>
<line x1="279" y1="523.25" x2="285" y2="523.25" stroke="#9a9a9a" stroke-width="0.7"/>
<path d="M285 496.25L292.8 496.25A7.8 12 0 0 1 285 508.25" fill="none" stroke="#aaa" stroke-width="0.7" stroke-dasharray="1.2 2.2"/>
<path d="M285 572.75L292.8 572.75A7.8 13.3 0 0 0 285 559.45" fill="none" stroke="#9a9a9a" stroke-width="0.7" stroke-dasharray="5 1.2"/>
<line x1="279" y1="572.75" x2="285" y2="572.75" stroke="#9a9a9a" stroke-width="0.7"/>
<path d="M285 546L292.8 546A7.8 12 0 0 1 285 558" fill="none" stroke="#aaa" stroke-width="0.7" stroke-dasharray="1.2 2.2"/>
<path d="M285 586.2L292.8 586.2A7.8 12.5 0 0 1 285 598.7" fill="none" stroke="#9a9a9a" stroke-width="0.7"/>
<path d="M285 651.5L292.8 651.5A7.8 13.3 0 0 0 285 638.2" fill="none" stroke="#9a9a9a" stroke-width="0.7" stroke-dasharray="5 1.2"/>
<line x1="279" y1="651.5" x2="285" y2="651.5" stroke="#9a9a9a" stroke-width="0.7"/>
<path d="M285 624.5L292.8 624.5A7.8 12 0 0 1 285 636.5" fill="none" stroke="#aaa" stroke-width="0.7" stroke-dasharray="1.2 2.2"/>
<path d="M285 711.5L292.8 711.5A7.8 13.3 0 0 0 285 698.2" fill="none" stroke="#9a9a9a" stroke-width="0.7" stroke-dasharray="5 1.2"/>
<line x1="279" y1="711.5" x2="285" y2="711.5" stroke="#9a9a9a" stroke-width="0.7"/>
<path d="M285 685L292.8 685A7.8 12 0 0 1 285 697" fill="none" stroke="#aaa" stroke-width="0.7" stroke-dasharray="1.2 2.2"/>
<path d="M285 798.25L292.8 798.25A7.8 13.3 0 0 0 285 784.95" fill="none" stroke="#9a9a9a" stroke-width="0.7" stroke-dasharray="5 1.2"/>
<line x1="279" y1="798.25" x2="285" y2="798.25" stroke="#9a9a9a" stroke-width="0.7"/>
<path d="M285 771.25L292.8 771.25A7.8 12 0 0 1 285 783.25" fill="none" stroke="#aaa" stroke-width="0.7" stroke-dasharray="1.2 2.2"/>
<path d="M285 859L292.8 859A7.8 13.3 0 0 0 285 845.7" fill="none" stroke="#9a9a9a" stroke-width="0.7" stroke-dasharray="5 1.2"/>
<line x1="279" y1="859" x2="285" y2="859" stroke="#9a9a9a" stroke-width="0.7"/>
<path d="M285 832L292.8 832A7.8 12 0 0 1 285 844" fill="none" stroke="#aaa" stroke-width="0.7" stroke-dasharray="1.2 2.2"/>
<path d="M285 891.5L292.8 891.5A7.8 11.75 0 0 0 285 879.75" fill="none" stroke="#9a9a9a" stroke-width="0.7" stroke-dasharray="5 1.2"/>
<line x1="279" y1="891.5" x2="285" y2="891.5" stroke="#9a9a9a" stroke-width="0.7"/>
<path d="M557.5 78.4L549.2 78.4A8.3 13 0 0 1 557.5 65.4" fill="none" stroke="#9a9a9a" stroke-width="0.7" stroke-dasharray="5 1.2"/>
<line x1="557.5" y1="78.4" x2="562.9" y2="78.4" stroke="#9a9a9a" stroke-width="0.7"/>
<path d="M557.5 51.4L549.2 51.4A8.3 12 0 0 0 557.5 63.4" fill="none" stroke="#aaa" stroke-width="0.7" stroke-dasharray="1.2 2.2"/>
<path d="M557.5 135.3L549.2 135.3A8.3 13 0 0 1 557.5 122.3" fill="none" stroke="#9a9a9a" stroke-width="0.7" stroke-dasharray="5 1.2"/>
<line x1="557.5" y1="135.3" x2="562.9" y2="135.3" stroke="#9a9a9a" stroke-width="0.7"/>
<path d="M557.5 108.3L549.2 108.3A8.3 12 0 0 0 557.5 120.3" fill="none" stroke="#aaa" stroke-width="0.7" stroke-dasharray="1.2 2.2"/>
<path d="M557.5 199.7L549.2 199.7A8.3 13 0 0 1 557.5 186.7" fill="none" stroke="#9a9a9a" stroke-width="0.7" stroke-dasharray="5 1.2"/>
<line x1="557.5" y1="199.7" x2="562.9" y2="199.7" stroke="#9a9a9a" stroke-width="0.7"/>
<path d="M557.5 172.7L549.2 172.7A8.3 12 0 0 0 557.5 184.7" fill="none" stroke="#aaa" stroke-width="0.7" stroke-dasharray="1.2 2.2"/>
<path d="M557.5 249.5L549.2 249.5A8.3 13 0 0 1 557.5 236.5" fill="none" stroke="#9a9a9a" stroke-width="0.7" stroke-dasharray="5 1.2"/>
<line x1="557.5" y1="249.5" x2="562.9" y2="249.5" stroke="#9a9a9a" stroke-width="0.7"/>
<path d="M557.5 222.5L549.2 222.5A8.3 12 0 0 0 557.5 234.5" fill="none" stroke="#aaa" stroke-width="0.7" stroke-dasharray="1.2 2.2"/>
<path d="M557.5 298.4L549.2 298.4A8.3 13 0 0 1 557.5 285.4" fill="none" stroke="#9a9a9a" stroke-width="0.7" stroke-dasharray="5 1.2"/>
<line x1="557.5" y1="298.4" x2="562.9" y2="298.4" stroke="#9a9a9a" stroke-width="0.7"/>
<path d="M557.5 271.4L549.2 271.4A8.3 12 0 0 0 557.5 283.4" fill="none" stroke="#aaa" stroke-width="0.7" stroke-dasharray="1.2 2.2"/>
<path d="M557.5 362.9L549.2 362.9A8.3 13 0 0 1 557.5 349.9" fill="none" stroke="#9a9a9a" stroke-width="0.7" stroke-dasharray="5 1.2"/>
<line x1="557.5" y1="362.9" x2="562.9" y2="362.9" stroke="#9a9a9a" stroke-width="0.7"/>
<path d="M557.5 335.9L549.2 335.9A8.3 12 0 0 0 557.5 347.9" fill="none" stroke="#aaa" stroke-width="0.7" stroke-dasharray="1.2 2.2"/>
<path d="M557.5 419.6L549.2 419.6A8.3 13 0 0 1 557.5 406.6" fill="none" stroke="#9a9a9a" stroke-width="0.7" stroke-dasharray="5 1.2"/>
<line x1="557.5" y1="419.6" x2="562.9" y2="419.6" stroke="#9a9a9a" stroke-width="0.7"/>
<path d="M557.5 392.6L549.2 392.6A8.3 12 0 0 0 557.5 404.6" fill="none" stroke="#aaa" stroke-width="0.7" stroke-dasharray="1.2 2.2"/>
<path d="M557.5 474L549.2 474A8.3 13 0 0 1 557.5 461" fill="none" stroke="#9a9a9a" stroke-width="0.7" stroke-dasharray="5 1.2"/>
<line x1="557.5" y1="474" x2="562.9" y2="474" stroke="#9a9a9a" stroke-width="0.7"/>
<path d="M557.5 447L549.2 447A8.3 12 0 0 0 557.5 459" fill="none" stroke="#aaa" stroke-width="0.7" stroke-dasharray="1.2 2.2"/>
<path d="M557.5 523L549.2 523A8.3 13 0 0 1 557.5 510" fill="none" stroke="#9a9a9a" stroke-width="0.7" stroke-dasharray="5 1.2"/>
<line x1="557.5" y1="523" x2="562.9" y2="523" stroke="#9a9a9a" stroke-width="0.7"/>
<path d="M557.5 496L549.2 496A8.3 12 0 0 0 557.5 508" fill="none" stroke="#aaa" stroke-width="0.7" stroke-dasharray="1.2 2.2"/>
<path d="M557.5 590.6L549.2 590.6A8.3 13 0 0 1 557.5 577.6" fill="none" stroke="#9a9a9a" stroke-width="0.7" stroke-dasharray="5 1.2"/>
<line x1="557.5" y1="590.6" x2="562.9" y2="590.6" stroke="#9a9a9a" stroke-width="0.7"/>
<path d="M557.5 563.6L549.2 563.6A8.3 12 0 0 0 557.5 575.6" fill="none" stroke="#aaa" stroke-width="0.7" stroke-dasharray="1.2 2.2"/>
<path d="M557.5 646.9L549.2 646.9A8.3 13 0 0 1 557.5 633.9" fill="none" stroke="#9a9a9a" stroke-width="0.7" stroke-dasharray="5 1.2"/>
<line x1="557.5" y1="646.9" x2="562.9" y2="646.9" stroke="#9a9a9a" stroke-width="0.7"/>
<path d="M557.5 619.9L549.2 619.9A8.3 12 0 0 0 557.5 631.9" fill="none" stroke="#aaa" stroke-width="0.7" stroke-dasharray="1.2 2.2"/>
<path d="M557.5 713.1L549.2 713.1A8.3 13 0 0 1 557.5 700.1" fill="none" stroke="#9a9a9a" stroke-width="0.7" stroke-dasharray="5 1.2"/>
<line x1="557.5" y1="713.1" x2="562.9" y2="713.1" stroke="#9a9a9a" stroke-width="0.7"/>
<path d="M557.5 686.3L549.2 686.3A8.3 12 0 0 0 557.5 698.3" fill="none" stroke="#aaa" stroke-width="0.7" stroke-dasharray="1.2 2.2"/>
<path d="M557.5 748.2L549.2 748.2A8.3 13 0 0 0 557.5 761.2" fill="none" stroke="#9a9a9a" stroke-width="0.7"/>
<path d="M557.5 789L549.2 789A8.3 11 0 0 1 557.5 778" fill="none" stroke="#b8b8b8" stroke-width="0.6" stroke-dasharray="1 2.2"/>
<path d="M557.5 845.9L549.2 845.9A8.3 13 0 0 1 557.5 832.9" fill="none" stroke="#9a9a9a" stroke-width="0.7" stroke-dasharray="5 1.2"/>
<line x1="557.5" y1="845.9" x2="562.9" y2="845.9" stroke="#9a9a9a" stroke-width="0.7"/>
<path d="M557.5 819.4L549.2 819.4A8.3 12 0 0 0 557.5 831.4" fill="none" stroke="#aaa" stroke-width="0.7" stroke-dasharray="1.2 2.2"/>
<path d="M557.5 888.6L549.2 888.6A8.3 13 0 0 1 557.5 875.6" fill="none" stroke="#9a9a9a" stroke-width="0.7" stroke-dasharray="5 1.2"/>
<line x1="557.5" y1="888.6" x2="562.9" y2="888.6" stroke="#9a9a9a" stroke-width="0.7"/>
<path d="M557.5 861.8L549.2 861.8A8.3 12 0 0 0 557.5 873.8" fill="none" stroke="#aaa" stroke-width="0.7" stroke-dasharray="1.2 2.2"/>
<rect x="1277.1" y="52.25" width="29.5" height="57.35" fill="#f5d9c1" stroke="#a4a4a4" stroke-width="0.7"/>
<rect x="1277.1" y="192.25" width="29.5" height="57.15" fill="#eeeefd" stroke="#a4a4a4" stroke-width="0.7"/>
<rect x="1277.1" y="262.1" width="29.5" height="57.3" fill="#f5d9c1" stroke="#a4a4a4" stroke-width="0.7"/>
<rect x="1277.1" y="403.25" width="29.5" height="57.25" fill="#eeeefd" stroke="#a4a4a4" stroke-width="0.7"/>
<rect x="1277.1" y="473.25" width="29.5" height="57.25" fill="#f5d9c1" stroke="#a4a4a4" stroke-width="0.7"/>
<rect x="1277.1" y="682.9" width="29.5" height="57.5" fill="#eeeefd" stroke="#a4a4a4" stroke-width="0.7"/>
<rect x="1277.1" y="754.1" width="29.5" height="57.3" fill="#f5d9c1" stroke="#a4a4a4" stroke-width="0.7"/>
<rect x="1595.7" y="44" width="29.05" height="56.6" fill="#e4dcfa" stroke="#a4a4a4" stroke-width="0.7"/>
<rect x="1595.7" y="194.4" width="29.05" height="57.1" fill="#f2fded" stroke="#a4a4a4" stroke-width="0.7"/>
<rect x="1595.7" y="269.25" width="29.05" height="56.25" fill="#e4dcfa" stroke="#a4a4a4" stroke-width="0.7"/>
<rect x="1595.7" y="419.25" width="29.05" height="57" fill="#f2fded" stroke="#a4a4a4" stroke-width="0.7"/>
<rect x="1595.7" y="494.25" width="29.05" height="56.25" fill="#e4dcfa" stroke="#a4a4a4" stroke-width="0.7"/>
<rect x="1595.7" y="660" width="29.05" height="57.5" fill="#f2fded" stroke="#a4a4a4" stroke-width="0.7"/>
<rect x="1595.7" y="736.25" width="29.05" height="57.15" fill="#e4dcfa" stroke="#a4a4a4" stroke-width="0.7"/>
<rect x="1306.6" y="36" width="150.8" height="110" fill="#f5d9c1"/>
<rect x="1457.4" y="36" width="138.3" height="112" fill="#e4dcfa"/>
<rect x="1306.6" y="146" width="150.8" height="114" fill="#eeeefd"/>
<rect x="1457.4" y="148" width="138.3" height="112" fill="#f2fded"/>
<rect x="1306.6" y="260" width="150.8" height="111" fill="#f5d9c1"/>
<rect x="1457.4" y="260" width="138.3" height="112.5" fill="#e4dcfa"/>
<rect x="1306.6" y="371" width="150.8" height="113.5" fill="#eeeefd"/>
<rect x="1457.4" y="372.5" width="138.3" height="112" fill="#f2fded"/>
<rect x="1306.6" y="484.5" width="150.8" height="111.5" fill="#f5d9c1"/>
<rect x="1457.4" y="484.5" width="138.3" height="113" fill="#e4dcfa"/>
<rect x="1306.6" y="596" width="150.8" height="128" fill="#eeeefd"/>
<rect x="1457.4" y="597.5" width="138.3" height="126.5" fill="#f2fded"/>
<rect x="1306.6" y="724" width="150.8" height="176" fill="#f5d9c1"/>
<rect x="1457.4" y="724" width="138.3" height="176" fill="#e4dcfa"/>
<rect x="1355" y="128.9" width="104.4" height="16" fill="#fff"/>
<rect x="1428" y="143.9" width="31.4" height="21.5" fill="#fff"/>
<rect x="1438.4" y="126.6" width="14.4" height="4.3" fill="#fff"/>
<rect x="1438.2" y="164.5" width="14.6" height="4.6" fill="#fff"/>
<rect x="1356.8" y="130.5" width="64.5" height="13.4" fill="#fff"/>
<line x1="1360.5" y1="131" x2="1360.5" y2="143.4" stroke="#444" stroke-width="1"/>
<line x1="1363.5" y1="131" x2="1363.5" y2="143.4" stroke="#444" stroke-width="1"/>
<line x1="1367.5" y1="131" x2="1367.5" y2="143.4" stroke="#444" stroke-width="1"/>
<line x1="1370.5" y1="131" x2="1370.5" y2="143.4" stroke="#444" stroke-width="1"/>
<line x1="1374.5" y1="131" x2="1374.5" y2="143.4" stroke="#444" stroke-width="1"/>
<line x1="1378.5" y1="131" x2="1378.5" y2="143.4" stroke="#444" stroke-width="1"/>
<line x1="1381.5" y1="131" x2="1381.5" y2="143.4" stroke="#444" stroke-width="1"/>
<line x1="1385.5" y1="131" x2="1385.5" y2="143.4" stroke="#444" stroke-width="1"/>
<line x1="1388.5" y1="131" x2="1388.5" y2="143.4" stroke="#444" stroke-width="1"/>
<line x1="1392.5" y1="131" x2="1392.5" y2="143.4" stroke="#444" stroke-width="1"/>
<line x1="1395.5" y1="131" x2="1395.5" y2="143.4" stroke="#444" stroke-width="1"/>
<line x1="1399.5" y1="131" x2="1399.5" y2="143.4" stroke="#444" stroke-width="1"/>
<line x1="1402.5" y1="131" x2="1402.5" y2="143.4" stroke="#444" stroke-width="1"/>
<line x1="1406.5" y1="131" x2="1406.5" y2="143.4" stroke="#444" stroke-width="1"/>
<line x1="1410.5" y1="131" x2="1410.5" y2="143.4" stroke="#444" stroke-width="1"/>
<line x1="1413.5" y1="131" x2="1413.5" y2="143.4" stroke="#444" stroke-width="1"/>
<line x1="1417.5" y1="131" x2="1417.5" y2="143.4" stroke="#444" stroke-width="1"/>
<line x1="1420.5" y1="131" x2="1420.5" y2="143.4" stroke="#444" stroke-width="1"/>
<line x1="1356.8" y1="131.1" x2="1421.3" y2="131.1" stroke="#444" stroke-width="0.7"/>
<line x1="1356.8" y1="143.3" x2="1421.3" y2="143.3" stroke="#444" stroke-width="0.9" stroke-dasharray="4 1.5"/>
<line x1="1356.8" y1="137.7" x2="1416.3" y2="137.7" stroke="#999" stroke-width="0.5"/>
<line x1="1387.8" y1="131.5" x2="1399.8" y2="142.9" stroke="#999" stroke-width="0.7"/>
<rect x="1360.8" y="135" width="6.5" height="4" fill="#222"/>
<rect x="1353.1" y="126.9" width="85.65" height="3.4" fill="#000"/>
<rect x="1353.1" y="126.9" width="3.6" height="18" fill="#000"/>
<rect x="1452.75" y="126.9" width="6.65" height="3.6" fill="#000"/>
<rect x="1313.6" y="144.4" width="115.4" height="3.7" fill="#000"/>
<rect x="1425.4" y="144.4" width="3.6" height="24.1" fill="#000"/>
<rect x="1425.4" y="165" width="12.7" height="3.5" fill="#000"/>
<rect x="1452.75" y="165" width="6.65" height="3.5" fill="#000"/>
<polygon points="1443.8,132.52 1448.2,132.52 1446,129.22" fill="#111"/>
<polygon points="1443.8,162.58 1448.2,162.58 1446,165.88" fill="#111"/>
<polygon points="1452.48,138.2 1452.48,142.6 1455.78,140.4" fill="#111"/>
<polygon points="1452.48,155 1452.48,159.4 1455.78,157.2" fill="#111"/>
<rect x="1355" y="353.9" width="104.4" height="16" fill="#fff"/>
<rect x="1428" y="368.9" width="31.4" height="21.5" fill="#fff"/>
<rect x="1438.4" y="351.6" width="14.4" height="4.3" fill="#fff"/>
<rect x="1438.2" y="389.5" width="14.6" height="4.6" fill="#fff"/>
<rect x="1356.8" y="355.5" width="64.5" height="13.4" fill="#fff"/>
<line x1="1360.5" y1="356" x2="1360.5" y2="368.4" stroke="#444" stroke-width="1"/>
<line x1="1363.5" y1="356" x2="1363.5" y2="368.4" stroke="#444" stroke-width="1"/>
<line x1="1367.5" y1="356" x2="1367.5" y2="368.4" stroke="#444" stroke-width="1"/>
<line x1="1370.5" y1="356" x2="1370.5" y2="368.4" stroke="#444" stroke-width="1"/>
<line x1="1374.5" y1="356" x2="1374.5" y2="368.4" stroke="#444" stroke-width="1"/>
<line x1="1378.5" y1="356" x2="1378.5" y2="368.4" stroke="#444" stroke-width="1"/>
<line x1="1381.5" y1="356" x2="1381.5" y2="368.4" stroke="#444" stroke-width="1"/>
<line x1="1385.5" y1="356" x2="1385.5" y2="368.4" stroke="#444" stroke-width="1"/>
<line x1="1388.5" y1="356" x2="1388.5" y2="368.4" stroke="#444" stroke-width="1"/>
<line x1="1392.5" y1="356" x2="1392.5" y2="368.4" stroke="#444" stroke-width="1"/>
<line x1="1395.5" y1="356" x2="1395.5" y2="368.4" stroke="#444" stroke-width="1"/>
<line x1="1399.5" y1="356" x2="1399.5" y2="368.4" stroke="#444" stroke-width="1"/>
<line x1="1402.5" y1="356" x2="1402.5" y2="368.4" stroke="#444" stroke-width="1"/>
<line x1="1406.5" y1="356" x2="1406.5" y2="368.4" stroke="#444" stroke-width="1"/>
<line x1="1410.5" y1="356" x2="1410.5" y2="368.4" stroke="#444" stroke-width="1"/>
<line x1="1413.5" y1="356" x2="1413.5" y2="368.4" stroke="#444" stroke-width="1"/>
<line x1="1417.5" y1="356" x2="1417.5" y2="368.4" stroke="#444" stroke-width="1"/>
<line x1="1420.5" y1="356" x2="1420.5" y2="368.4" stroke="#444" stroke-width="1"/>
<line x1="1356.8" y1="356.1" x2="1421.3" y2="356.1" stroke="#444" stroke-width="0.7"/>
<line x1="1356.8" y1="368.3" x2="1421.3" y2="368.3" stroke="#444" stroke-width="0.9" stroke-dasharray="4 1.5"/>
<line x1="1356.8" y1="362.7" x2="1416.3" y2="362.7" stroke="#999" stroke-width="0.5"/>
<line x1="1387.8" y1="356.5" x2="1399.8" y2="367.9" stroke="#999" stroke-width="0.7"/>
<rect x="1360.8" y="360" width="6.5" height="4" fill="#222"/>
<rect x="1353.1" y="351.9" width="85.65" height="3.4" fill="#000"/>
<rect x="1353.1" y="351.9" width="3.6" height="18" fill="#000"/>
<rect x="1452.75" y="351.9" width="6.65" height="3.6" fill="#000"/>
<rect x="1313.6" y="369.4" width="115.4" height="3.7" fill="#000"/>
<rect x="1425.4" y="369.4" width="3.6" height="24.1" fill="#000"/>
<rect x="1425.4" y="390" width="12.7" height="3.5" fill="#000"/>
<rect x="1452.75" y="390" width="6.65" height="3.5" fill="#000"/>
<polygon points="1443.8,357.52 1448.2,357.52 1446,354.22" fill="#111"/>
<polygon points="1443.8,387.58 1448.2,387.58 1446,390.88" fill="#111"/>
<polygon points="1452.48,363.2 1452.48,367.6 1455.78,365.4" fill="#111"/>
<polygon points="1452.48,380 1452.48,384.4 1455.78,382.2" fill="#111"/>
<rect x="1355" y="578.75" width="104.4" height="16" fill="#fff"/>
<rect x="1428" y="593.75" width="31.4" height="21.5" fill="#fff"/>
<rect x="1438.4" y="576.45" width="14.4" height="4.3" fill="#fff"/>
<rect x="1438.2" y="614.35" width="14.6" height="4.6" fill="#fff"/>
<rect x="1356.8" y="580.35" width="64.5" height="13.4" fill="#fff"/>
<line x1="1360.5" y1="580.85" x2="1360.5" y2="593.25" stroke="#444" stroke-width="1"/>
<line x1="1363.5" y1="580.85" x2="1363.5" y2="593.25" stroke="#444" stroke-width="1"/>
<line x1="1367.5" y1="580.85" x2="1367.5" y2="593.25" stroke="#444" stroke-width="1"/>
<line x1="1370.5" y1="580.85" x2="1370.5" y2="593.25" stroke="#444" stroke-width="1"/>
<line x1="1374.5" y1="580.85" x2="1374.5" y2="593.25" stroke="#444" stroke-width="1"/>
<line x1="1378.5" y1="580.85" x2="1378.5" y2="593.25" stroke="#444" stroke-width="1"/>
<line x1="1381.5" y1="580.85" x2="1381.5" y2="593.25" stroke="#444" stroke-width="1"/>
<line x1="1385.5" y1="580.85" x2="1385.5" y2="593.25" stroke="#444" stroke-width="1"/>
<line x1="1388.5" y1="580.85" x2="1388.5" y2="593.25" stroke="#444" stroke-width="1"/>
<line x1="1392.5" y1="580.85" x2="1392.5" y2="593.25" stroke="#444" stroke-width="1"/>
<line x1="1395.5" y1="580.85" x2="1395.5" y2="593.25" stroke="#444" stroke-width="1"/>
<line x1="1399.5" y1="580.85" x2="1399.5" y2="593.25" stroke="#444" stroke-width="1"/>
<line x1="1402.5" y1="580.85" x2="1402.5" y2="593.25" stroke="#444" stroke-width="1"/>
<line x1="1406.5" y1="580.85" x2="1406.5" y2="593.25" stroke="#444" stroke-width="1"/>
<line x1="1410.5" y1="580.85" x2="1410.5" y2="593.25" stroke="#444" stroke-width="1"/>
<line x1="1413.5" y1="580.85" x2="1413.5" y2="593.25" stroke="#444" stroke-width="1"/>
<line x1="1417.5" y1="580.85" x2="1417.5" y2="593.25" stroke="#444" stroke-width="1"/>
<line x1="1420.5" y1="580.85" x2="1420.5" y2="593.25" stroke="#444" stroke-width="1"/>
<line x1="1356.8" y1="580.95" x2="1421.3" y2="580.95" stroke="#444" stroke-width="0.7"/>
<line x1="1356.8" y1="593.15" x2="1421.3" y2="593.15" stroke="#444" stroke-width="0.9" stroke-dasharray="4 1.5"/>
<line x1="1356.8" y1="587.55" x2="1416.3" y2="587.55" stroke="#999" stroke-width="0.5"/>
<line x1="1387.8" y1="581.35" x2="1399.8" y2="592.75" stroke="#999" stroke-width="0.7"/>
<rect x="1360.8" y="584.85" width="6.5" height="4" fill="#222"/>
<rect x="1353.1" y="576.75" width="85.65" height="3.4" fill="#000"/>
<rect x="1353.1" y="576.75" width="3.6" height="18" fill="#000"/>
<rect x="1452.75" y="576.75" width="6.65" height="3.6" fill="#000"/>
<rect x="1313.6" y="594.25" width="115.4" height="3.7" fill="#000"/>
<rect x="1425.4" y="594.25" width="3.6" height="24.1" fill="#000"/>
<rect x="1425.4" y="614.85" width="12.7" height="3.5" fill="#000"/>
<rect x="1452.75" y="614.85" width="6.65" height="3.5" fill="#000"/>
<polygon points="1443.8,582.37 1448.2,582.37 1446,579.07" fill="#111"/>
<polygon points="1443.8,612.43 1448.2,612.43 1446,615.73" fill="#111"/>
<polygon points="1452.48,588.05 1452.48,592.45 1455.78,590.25" fill="#111"/>
<polygon points="1452.48,604.85 1452.48,609.25 1455.78,607.05" fill="#111"/>
<rect x="1413.8" y="40.4" width="2.8" height="38.95" fill="#d4d4d4" stroke="#8e8e8e" stroke-width="0.7"/>
<rect x="1415.2" y="41.2" width="40.7" height="3.1" fill="#e2e2e2" stroke="#9a9a9a" stroke-width="0.6"/>
<rect x="1452.3" y="40.4" width="2.6" height="38.35" fill="#d4d4d4" stroke="#8e8e8e" stroke-width="0.7"/>
<rect x="1413.9" y="77.8" width="9.2" height="1.9" fill="#d8d8d8" stroke="#8e8e8e" stroke-width="0.7"/>
<rect x="1435.4" y="77.8" width="20.5" height="1.9" fill="#d8d8d8" stroke="#8e8e8e" stroke-width="0.7"/>
<path d="M1423.1 78.75L1423.1 65.75A13 13 0 0 1 1436.1 78.75" fill="none" stroke="#9a9a9a" stroke-width="0.7"/>
<rect x="1314.1" y="93.65" width="41.9" height="1.9" fill="#d8d8d8" stroke="#8e8e8e" stroke-width="0.7"/>
<rect x="1413.1" y="94.1" width="17.3" height="2.6" fill="#d8d8d8" stroke="#8e8e8e" stroke-width="0.7"/>
<rect x="1413.3" y="95.4" width="2.8" height="31.5" fill="#d4d4d4" stroke="#8e8e8e" stroke-width="0.7"/>
<rect x="1428.2" y="107.4" width="2.2" height="19.5" fill="#d4d4d4" stroke="#8e8e8e" stroke-width="0.7"/>
<path d="M1428.75 97.4L1418.15 97.4A10.6 10.6 0 0 0 1428.75 108" fill="none" stroke="#9a9a9a" stroke-width="0.7"/>
<path d="M1453.5 126.9L1453.5 112.4A14.5 14.5 0 0 0 1439 126.9" fill="none" stroke="#9a9a9a" stroke-width="0.7"/>
<rect x="1416.4" y="261.9" width="2.8" height="39.3" fill="#d4d4d4" stroke="#8e8e8e" stroke-width="0.7"/>
<rect x="1417.8" y="262.7" width="38.1" height="3.1" fill="#e2e2e2" stroke="#9a9a9a" stroke-width="0.6"/>
<rect x="1452.3" y="261.9" width="2.6" height="38.7" fill="#d4d4d4" stroke="#8e8e8e" stroke-width="0.7"/>
<rect x="1416.5" y="299.65" width="6.6" height="1.9" fill="#d8d8d8" stroke="#8e8e8e" stroke-width="0.7"/>
<rect x="1435.4" y="299.65" width="20.5" height="1.9" fill="#d8d8d8" stroke="#8e8e8e" stroke-width="0.7"/>
<path d="M1423.1 300.6L1423.1 287.6A13 13 0 0 1 1436.1 300.6" fill="none" stroke="#9a9a9a" stroke-width="0.7"/>
<rect x="1314.1" y="317.55" width="41.9" height="1.9" fill="#d8d8d8" stroke="#8e8e8e" stroke-width="0.7"/>
<rect x="1412.5" y="317.45" width="15" height="2.6" fill="#d8d8d8" stroke="#8e8e8e" stroke-width="0.7"/>
<rect x="1402.35" y="330.75" width="2.8" height="21.15" fill="#d4d4d4" stroke="#8e8e8e" stroke-width="0.7"/>
<rect x="1425.4" y="331.25" width="2.2" height="20.65" fill="#d4d4d4" stroke="#8e8e8e" stroke-width="0.7"/>
<path d="M1426.25 320.65L1415.25 320.65A11 11 0 0 0 1426.25 331.65" fill="none" stroke="#9a9a9a" stroke-width="0.7"/>
<path d="M1368.8 289.9V277.2 M1383.6 289.9V277.2 M1368 278.7H1384.4" fill="none" stroke="#aaa" stroke-width="1.2" stroke-dasharray="4.5 2"/>
<line x1="1369.5" y1="290.4" x2="1382.9" y2="277.2" stroke="#bbb" stroke-width="0.7"/>
<line x1="1382.9" y1="290.4" x2="1369.5" y2="275.7" stroke="#bbb" stroke-width="0.7"/>
<path d="M1453.5 351.9L1453.5 337.4A14.5 14.5 0 0 0 1439 351.9" fill="none" stroke="#9a9a9a" stroke-width="0.7"/>
<rect x="1416.4" y="487" width="2.8" height="41.1" fill="#d4d4d4" stroke="#8e8e8e" stroke-width="0.7"/>
<rect x="1417.8" y="487.8" width="38.1" height="3.1" fill="#e2e2e2" stroke="#9a9a9a" stroke-width="0.6"/>
<rect x="1452.3" y="487" width="2.6" height="40.5" fill="#d4d4d4" stroke="#8e8e8e" stroke-width="0.7"/>
<rect x="1416.5" y="526.55" width="6.6" height="1.9" fill="#d8d8d8" stroke="#8e8e8e" stroke-width="0.7"/>
<rect x="1435.4" y="526.55" width="20.5" height="1.9" fill="#d8d8d8" stroke="#8e8e8e" stroke-width="0.7"/>
<path d="M1423.1 527.5L1423.1 514.5A13 13 0 0 1 1436.1 527.5" fill="none" stroke="#9a9a9a" stroke-width="0.7"/>
<rect x="1314.1" y="543.55" width="41.9" height="1.9" fill="#d8d8d8" stroke="#8e8e8e" stroke-width="0.7"/>
<rect x="1412.5" y="543.7" width="15" height="2.6" fill="#d8d8d8" stroke="#8e8e8e" stroke-width="0.7"/>
<rect x="1402.35" y="557" width="2.8" height="19.75" fill="#d4d4d4" stroke="#8e8e8e" stroke-width="0.7"/>
<rect x="1425.4" y="557.5" width="2.2" height="19.25" fill="#d4d4d4" stroke="#8e8e8e" stroke-width="0.7"/>
<path d="M1426.25 546.9L1415.25 546.9A11 11 0 0 0 1426.25 557.9" fill="none" stroke="#9a9a9a" stroke-width="0.7"/>
<path d="M1368.8 515V502.3 M1383.6 515V502.3 M1368 503.8H1384.4" fill="none" stroke="#aaa" stroke-width="1.2" stroke-dasharray="4.5 2"/>
<line x1="1369.5" y1="515.5" x2="1382.9" y2="502.3" stroke="#bbb" stroke-width="0.7"/>
<line x1="1382.9" y1="515.5" x2="1369.5" y2="500.8" stroke="#bbb" stroke-width="0.7"/>
<path d="M1453.5 576.75L1453.5 562.25A14.5 14.5 0 0 0 1439 576.75" fill="none" stroke="#9a9a9a" stroke-width="0.7"/>
<rect x="1459.4" y="41.2" width="43.1" height="3.1" fill="#e2e2e2" stroke="#9a9a9a" stroke-width="0.6"/>
<rect x="1460.2" y="40.4" width="2.8" height="45.2" fill="#d4d4d4" stroke="#8e8e8e" stroke-width="0.7"/>
<rect x="1502.5" y="40.4" width="2.4" height="105.6" fill="#d4d4d4" stroke="#8e8e8e" stroke-width="0.7"/>
<rect x="1460" y="84.05" width="17.1" height="1.9" fill="#d8d8d8" stroke="#8e8e8e" stroke-width="0.7"/>
<rect x="1489.4" y="84.05" width="12.9" height="1.9" fill="#d8d8d8" stroke="#8e8e8e" stroke-width="0.7"/>
<path d="M1489.4 85L1489.4 72A13 13 0 0 0 1476.4 85" fill="none" stroke="#9a9a9a" stroke-width="0.7"/>
<rect x="1480.2" y="101.2" width="24.8" height="2.6" fill="#d8d8d8" stroke="#8e8e8e" stroke-width="0.7"/>
<rect x="1561" y="100.95" width="26.8" height="1.9" fill="#d8d8d8" stroke="#8e8e8e" stroke-width="0.7"/>
<rect x="1480.35" y="102.5" width="2.9" height="3.7" fill="#d4d4d4" stroke="#8e8e8e" stroke-width="0.7"/>
<rect x="1480.35" y="119.4" width="2.9" height="26.6" fill="#d4d4d4" stroke="#8e8e8e" stroke-width="0.7"/>
<path d="M1483.3 106.3L1496.5 106.3A13.2 13.2 0 0 1 1483.3 119.5" fill="none" stroke="#9a9a9a" stroke-width="0.7"/>
<path d="M1459.4 146L1459.4 131.7A14.3 14.3 0 0 1 1473.7 146" fill="none" stroke="#9a9a9a" stroke-width="0.7"/>
<line x1="1520" y1="115.9" x2="1527.5" y2="115.9" stroke="#9a9a9a" stroke-width="0.7"/>
<path d="M1530.8 68.4V55.7 M1546.7 68.4V55.7 M1530 57.2H1547.5" fill="none" stroke="#aaa" stroke-width="1.2" stroke-dasharray="4.5 2"/>
<line x1="1531.5" y1="68.9" x2="1546" y2="55.7" stroke="#bbb" stroke-width="0.7"/>
<line x1="1546" y1="68.9" x2="1531.5" y2="54.2" stroke="#bbb" stroke-width="0.7"/>
<rect x="1459.4" y="262.7" width="43.1" height="3.1" fill="#e2e2e2" stroke="#9a9a9a" stroke-width="0.6"/>
<rect x="1460.2" y="261.9" width="2.8" height="49.3" fill="#d4d4d4" stroke="#8e8e8e" stroke-width="0.7"/>
<rect x="1502.5" y="261.9" width="2.4" height="108.7" fill="#d4d4d4" stroke="#8e8e8e" stroke-width="0.7"/>
<rect x="1460" y="309.65" width="17.1" height="1.9" fill="#d8d8d8" stroke="#8e8e8e" stroke-width="0.7"/>
<rect x="1489.4" y="309.65" width="12.9" height="1.9" fill="#d8d8d8" stroke="#8e8e8e" stroke-width="0.7"/>
<path d="M1489.4 310.6L1489.4 297.6A13 13 0 0 0 1476.4 310.6" fill="none" stroke="#9a9a9a" stroke-width="0.7"/>
<rect x="1480.2" y="328.45" width="24.8" height="2.6" fill="#d8d8d8" stroke="#8e8e8e" stroke-width="0.7"/>
<rect x="1561" y="328.2" width="26.8" height="1.9" fill="#d8d8d8" stroke="#8e8e8e" stroke-width="0.7"/>
<rect x="1480.35" y="329.75" width="2.9" height="3.7" fill="#d4d4d4" stroke="#8e8e8e" stroke-width="0.7"/>
<rect x="1480.35" y="346.65" width="2.9" height="23.95" fill="#d4d4d4" stroke="#8e8e8e" stroke-width="0.7"/>
<path d="M1483.3 333.55L1496.5 333.55A13.2 13.2 0 0 1 1483.3 346.75" fill="none" stroke="#9a9a9a" stroke-width="0.7"/>
<path d="M1459.4 370.6L1459.4 356.3A14.3 14.3 0 0 1 1473.7 370.6" fill="none" stroke="#9a9a9a" stroke-width="0.7"/>
<line x1="1520" y1="343.15" x2="1527.5" y2="343.15" stroke="#9a9a9a" stroke-width="0.7"/>
<path d="M1530.8 289.9V277.2 M1546.7 289.9V277.2 M1530 278.7H1547.5" fill="none" stroke="#aaa" stroke-width="1.2" stroke-dasharray="4.5 2"/>
<line x1="1531.5" y1="290.4" x2="1546" y2="277.2" stroke="#bbb" stroke-width="0.7"/>
<line x1="1546" y1="290.4" x2="1531.5" y2="275.7" stroke="#bbb" stroke-width="0.7"/>
<rect x="1459.4" y="487.8" width="43.1" height="3.1" fill="#e2e2e2" stroke="#9a9a9a" stroke-width="0.6"/>
<rect x="1460.2" y="487" width="2.8" height="49.1" fill="#d4d4d4" stroke="#8e8e8e" stroke-width="0.7"/>
<rect x="1502.5" y="487" width="2.4" height="108.8" fill="#d4d4d4" stroke="#8e8e8e" stroke-width="0.7"/>
<rect x="1460" y="534.55" width="17.1" height="1.9" fill="#d8d8d8" stroke="#8e8e8e" stroke-width="0.7"/>
<rect x="1489.4" y="534.55" width="12.9" height="1.9" fill="#d8d8d8" stroke="#8e8e8e" stroke-width="0.7"/>
<path d="M1489.4 535.5L1489.4 522.5A13 13 0 0 0 1476.4 535.5" fill="none" stroke="#9a9a9a" stroke-width="0.7"/>
<rect x="1480.2" y="553.7" width="24.8" height="2.6" fill="#d8d8d8" stroke="#8e8e8e" stroke-width="0.7"/>
<rect x="1561" y="553.45" width="26.8" height="1.9" fill="#d8d8d8" stroke="#8e8e8e" stroke-width="0.7"/>
<rect x="1480.35" y="555" width="2.9" height="3.7" fill="#d4d4d4" stroke="#8e8e8e" stroke-width="0.7"/>
<rect x="1480.35" y="571.9" width="2.9" height="23.9" fill="#d4d4d4" stroke="#8e8e8e" stroke-width="0.7"/>
<path d="M1483.3 558.8L1496.5 558.8A13.2 13.2 0 0 1 1483.3 572" fill="none" stroke="#9a9a9a" stroke-width="0.7"/>
<path d="M1459.4 595.8L1459.4 581.5A14.3 14.3 0 0 1 1473.7 595.8" fill="none" stroke="#9a9a9a" stroke-width="0.7"/>
<line x1="1520" y1="568.4" x2="1527.5" y2="568.4" stroke="#9a9a9a" stroke-width="0.7"/>
<path d="M1530.8 515V502.3 M1546.7 515V502.3 M1530 503.8H1547.5" fill="none" stroke="#aaa" stroke-width="1.2" stroke-dasharray="4.5 2"/>
<line x1="1531.5" y1="515.5" x2="1546" y2="502.3" stroke="#bbb" stroke-width="0.7"/>
<line x1="1546" y1="515.5" x2="1531.5" y2="500.8" stroke="#bbb" stroke-width="0.7"/>
<rect x="1402.35" y="148.1" width="2.8" height="28.4" fill="#d4d4d4" stroke="#8e8e8e" stroke-width="0.7"/>
<rect x="1425.1" y="168.5" width="2.6" height="14" fill="#d4d4d4" stroke="#8e8e8e" stroke-width="0.7"/>
<rect x="1418.1" y="180.95" width="9.65" height="1.9" fill="#d8d8d8" stroke="#8e8e8e" stroke-width="0.7"/>
<path d="M1405.6 181.4L1405.6 168.4A13 13 0 0 1 1418.6 181.4" fill="none" stroke="#9a9a9a" stroke-width="0.7"/>
<path d="M1453.5 168.5L1453.5 182.8A14.3 14.3 0 0 1 1439.2 168.5" fill="none" stroke="#9a9a9a" stroke-width="0.7"/>
<rect x="1314.1" y="201.55" width="41.9" height="1.9" fill="#d8d8d8" stroke="#8e8e8e" stroke-width="0.7"/>
<rect x="1418.1" y="201.55" width="5.65" height="1.9" fill="#d8d8d8" stroke="#8e8e8e" stroke-width="0.7"/>
<rect x="1436.25" y="201.55" width="19.65" height="1.9" fill="#d8d8d8" stroke="#8e8e8e" stroke-width="0.7"/>
<rect x="1419.45" y="202.5" width="3.1" height="55.6" fill="#d4d4d4" stroke="#8e8e8e" stroke-width="0.7"/>
<rect x="1452.3" y="202.5" width="2.6" height="55.6" fill="#d4d4d4" stroke="#8e8e8e" stroke-width="0.7"/>
<path d="M1422.75 203L1422.75 216.6A13.6 13.6 0 0 0 1436.35 203" fill="none" stroke="#9a9a9a" stroke-width="0.7"/>
<path d="M1419.4 203L1419.4 215A12 12 0 0 1 1407.4 203" fill="none" stroke="#9a9a9a" stroke-width="0.7"/>
<rect x="1419.4" y="255.2" width="36.5" height="2.9" fill="#e2e2e2" stroke="#9a9a9a" stroke-width="0.6"/>
<path d="M1368.8 222.5V232.3 M1383.6 222.5V232.3 M1368 233.8H1384.4" fill="none" stroke="#aaa" stroke-width="1.2" stroke-dasharray="4.5 2"/>
<line x1="1369.5" y1="223" x2="1382.9" y2="232.3" stroke="#bbb" stroke-width="0.7"/>
<line x1="1382.9" y1="223" x2="1369.5" y2="230.8" stroke="#bbb" stroke-width="0.7"/>
<rect x="1402.35" y="373.1" width="2.8" height="28.4" fill="#d4d4d4" stroke="#8e8e8e" stroke-width="0.7"/>
<rect x="1425.1" y="393.5" width="2.6" height="14" fill="#d4d4d4" stroke="#8e8e8e" stroke-width="0.7"/>
<rect x="1418.1" y="405.95" width="9.65" height="1.9" fill="#d8d8d8" stroke="#8e8e8e" stroke-width="0.7"/>
<path d="M1405.6 406.4L1405.6 393.4A13 13 0 0 1 1418.6 406.4" fill="none" stroke="#9a9a9a" stroke-width="0.7"/>
<path d="M1453.5 393.5L1453.5 407.8A14.3 14.3 0 0 1 1439.2 393.5" fill="none" stroke="#9a9a9a" stroke-width="0.7"/>
<rect x="1314.1" y="426.25" width="41.9" height="1.9" fill="#d8d8d8" stroke="#8e8e8e" stroke-width="0.7"/>
<rect x="1418.1" y="426.25" width="5.65" height="1.9" fill="#d8d8d8" stroke="#8e8e8e" stroke-width="0.7"/>
<rect x="1436.25" y="426.25" width="19.65" height="1.9" fill="#d8d8d8" stroke="#8e8e8e" stroke-width="0.7"/>
<rect x="1419.45" y="427.2" width="3.1" height="56.1" fill="#d4d4d4" stroke="#8e8e8e" stroke-width="0.7"/>
<rect x="1452.3" y="427.2" width="2.6" height="56.1" fill="#d4d4d4" stroke="#8e8e8e" stroke-width="0.7"/>
<path d="M1422.75 427.7L1422.75 441.3A13.6 13.6 0 0 0 1436.35 427.7" fill="none" stroke="#9a9a9a" stroke-width="0.7"/>
<path d="M1419.4 427.7L1419.4 439.7A12 12 0 0 1 1407.4 427.7" fill="none" stroke="#9a9a9a" stroke-width="0.7"/>
<rect x="1419.4" y="480.4" width="36.5" height="2.9" fill="#e2e2e2" stroke="#9a9a9a" stroke-width="0.6"/>
<path d="M1368.8 447.2V457 M1383.6 447.2V457 M1368 458.5H1384.4" fill="none" stroke="#aaa" stroke-width="1.2" stroke-dasharray="4.5 2"/>
<line x1="1369.5" y1="447.7" x2="1382.9" y2="457" stroke="#bbb" stroke-width="0.7"/>
<line x1="1382.9" y1="447.7" x2="1369.5" y2="455.5" stroke="#bbb" stroke-width="0.7"/>
<rect x="1402.35" y="598" width="2.8" height="28.4" fill="#d4d4d4" stroke="#8e8e8e" stroke-width="0.7"/>
<rect x="1425.1" y="618.4" width="2.6" height="14" fill="#d4d4d4" stroke="#8e8e8e" stroke-width="0.7"/>
<rect x="1418.1" y="630.85" width="9.65" height="1.9" fill="#d8d8d8" stroke="#8e8e8e" stroke-width="0.7"/>
<path d="M1405.6 631.3L1405.6 618.3A13 13 0 0 1 1418.6 631.3" fill="none" stroke="#9a9a9a" stroke-width="0.7"/>
<path d="M1453.5 618.4L1453.5 632.7A14.3 14.3 0 0 1 1439.2 618.4" fill="none" stroke="#9a9a9a" stroke-width="0.7"/>
<rect x="1314.1" y="653.45" width="41.9" height="1.9" fill="#d8d8d8" stroke="#8e8e8e" stroke-width="0.7"/>
<rect x="1412.5" y="654" width="10" height="2.8" fill="#d8d8d8" stroke="#8e8e8e" stroke-width="0.7"/>
<rect x="1419.45" y="671.25" width="3.1" height="51.15" fill="#d4d4d4" stroke="#8e8e8e" stroke-width="0.7"/>
<rect x="1436.25" y="679.05" width="19.65" height="1.9" fill="#d8d8d8" stroke="#8e8e8e" stroke-width="0.7"/>
<rect x="1452.3" y="680" width="2.6" height="42.4" fill="#d4d4d4" stroke="#8e8e8e" stroke-width="0.7"/>
<path d="M1423.1 680.6L1423.1 694.4A13.8 13.8 0 0 0 1436.9 680.6" fill="none" stroke="#9a9a9a" stroke-width="0.7"/>
<path d="M1419.6 671.3L1411.6 671.3A8 8 0 0 1 1419.6 663.3" fill="none" stroke="#9a9a9a" stroke-width="0.7"/>
<rect x="1419.4" y="719.5" width="36.5" height="2.9" fill="#e2e2e2" stroke="#9a9a9a" stroke-width="0.6"/>
<path d="M1368.8 688V697.9 M1383.6 688V697.9 M1368 699.4H1384.4" fill="none" stroke="#aaa" stroke-width="1.2" stroke-dasharray="4.5 2"/>
<line x1="1369.5" y1="688.5" x2="1382.9" y2="697.9" stroke="#bbb" stroke-width="0.7"/>
<line x1="1382.9" y1="688.5" x2="1369.5" y2="696.4" stroke="#bbb" stroke-width="0.7"/>
<rect x="1480.35" y="150" width="2.9" height="28.6" fill="#d4d4d4" stroke="#8e8e8e" stroke-width="0.7"/>
<rect x="1480.2" y="190.8" width="24.8" height="2.6" fill="#d8d8d8" stroke="#8e8e8e" stroke-width="0.7"/>
<rect x="1561" y="191.75" width="26.8" height="1.9" fill="#d8d8d8" stroke="#8e8e8e" stroke-width="0.7"/>
<rect x="1502.5" y="150" width="2.4" height="108.1" fill="#d4d4d4" stroke="#8e8e8e" stroke-width="0.7"/>
<path d="M1483.4 190.7L1496.4 190.7A13 13 0 0 0 1483.4 177.7" fill="none" stroke="#9a9a9a" stroke-width="0.7"/>
<rect x="1459.4" y="210.55" width="16.8" height="1.9" fill="#d8d8d8" stroke="#8e8e8e" stroke-width="0.7"/>
<rect x="1489.5" y="210.55" width="12.8" height="1.9" fill="#d8d8d8" stroke="#8e8e8e" stroke-width="0.7"/>
<path d="M1489.5 211.5L1489.5 225.1A13.6 13.6 0 0 1 1475.9 211.5" fill="none" stroke="#9a9a9a" stroke-width="0.7"/>
<rect x="1460.2" y="211.5" width="2.8" height="46.6" fill="#d4d4d4" stroke="#8e8e8e" stroke-width="0.7"/>
<rect x="1459.4" y="255.1" width="42.9" height="3" fill="#e2e2e2" stroke="#9a9a9a" stroke-width="0.6"/>
<path d="M1459.4 150.3L1459.4 164.6A14.3 14.3 0 0 0 1473.7 150.3" fill="none" stroke="#9a9a9a" stroke-width="0.7"/>
<path d="M1530.8 222.5V232.3 M1546.7 222.5V232.3 M1530 233.8H1547.5" fill="none" stroke="#aaa" stroke-width="1.2" stroke-dasharray="4.5 2"/>
<line x1="1531.5" y1="223" x2="1546" y2="232.3" stroke="#bbb" stroke-width="0.7"/>
<line x1="1546" y1="223" x2="1531.5" y2="230.8" stroke="#bbb" stroke-width="0.7"/>
<rect x="1480.35" y="374.5" width="2.9" height="29.5" fill="#d4d4d4" stroke="#8e8e8e" stroke-width="0.7"/>
<rect x="1480.2" y="416.2" width="24.8" height="2.6" fill="#d8d8d8" stroke="#8e8e8e" stroke-width="0.7"/>
<rect x="1561" y="417.15" width="26.8" height="1.9" fill="#d8d8d8" stroke="#8e8e8e" stroke-width="0.7"/>
<rect x="1502.5" y="374.5" width="2.4" height="108.8" fill="#d4d4d4" stroke="#8e8e8e" stroke-width="0.7"/>
<path d="M1483.4 416.1L1496.4 416.1A13 13 0 0 0 1483.4 403.1" fill="none" stroke="#9a9a9a" stroke-width="0.7"/>
<rect x="1459.4" y="435.95" width="16.8" height="1.9" fill="#d8d8d8" stroke="#8e8e8e" stroke-width="0.7"/>
<rect x="1489.5" y="435.95" width="12.8" height="1.9" fill="#d8d8d8" stroke="#8e8e8e" stroke-width="0.7"/>
<path d="M1489.5 436.9L1489.5 450.5A13.6 13.6 0 0 1 1475.9 436.9" fill="none" stroke="#9a9a9a" stroke-width="0.7"/>
<rect x="1460.2" y="436.9" width="2.8" height="46.4" fill="#d4d4d4" stroke="#8e8e8e" stroke-width="0.7"/>
<rect x="1459.4" y="480.3" width="42.9" height="3" fill="#e2e2e2" stroke="#9a9a9a" stroke-width="0.6"/>
<path d="M1459.4 374.8L1459.4 389.1A14.3 14.3 0 0 0 1473.7 374.8" fill="none" stroke="#9a9a9a" stroke-width="0.7"/>
<path d="M1530.8 447.9V457.7 M1546.7 447.9V457.7 M1530 459.2H1547.5" fill="none" stroke="#aaa" stroke-width="1.2" stroke-dasharray="4.5 2"/>
<line x1="1531.5" y1="448.4" x2="1546" y2="457.7" stroke="#bbb" stroke-width="0.7"/>
<line x1="1546" y1="448.4" x2="1531.5" y2="456.2" stroke="#bbb" stroke-width="0.7"/>
<rect x="1480.35" y="599.7" width="2.9" height="28.7" fill="#d4d4d4" stroke="#8e8e8e" stroke-width="0.7"/>
<rect x="1480.2" y="640.6" width="24.8" height="2.6" fill="#d8d8d8" stroke="#8e8e8e" stroke-width="0.7"/>
<rect x="1561" y="641.55" width="26.8" height="1.9" fill="#d8d8d8" stroke="#8e8e8e" stroke-width="0.7"/>
<rect x="1502.5" y="599.7" width="2.4" height="122.7" fill="#d4d4d4" stroke="#8e8e8e" stroke-width="0.7"/>
<path d="M1483.4 640.5L1496.4 640.5A13 13 0 0 0 1483.4 627.5" fill="none" stroke="#9a9a9a" stroke-width="0.7"/>
<rect x="1459.4" y="666.55" width="16.8" height="1.9" fill="#d8d8d8" stroke="#8e8e8e" stroke-width="0.7"/>
<rect x="1489.5" y="666.55" width="12.8" height="1.9" fill="#d8d8d8" stroke="#8e8e8e" stroke-width="0.7"/>
<path d="M1489.5 667.5L1489.5 681.1A13.6 13.6 0 0 1 1475.9 667.5" fill="none" stroke="#9a9a9a" stroke-width="0.7"/>
<rect x="1460.2" y="667.5" width="2.8" height="54.9" fill="#d4d4d4" stroke="#8e8e8e" stroke-width="0.7"/>
<rect x="1459.4" y="719.4" width="42.9" height="3" fill="#e2e2e2" stroke="#9a9a9a" stroke-width="0.6"/>
<path d="M1459.4 600L1459.4 614.3A14.3 14.3 0 0 0 1473.7 600" fill="none" stroke="#9a9a9a" stroke-width="0.7"/>
<path d="M1530.8 687.5V697.3 M1546.7 687.5V697.3 M1530 698.8H1547.5" fill="none" stroke="#aaa" stroke-width="1.2" stroke-dasharray="4.5 2"/>
<line x1="1531.5" y1="688" x2="1546" y2="697.3" stroke="#bbb" stroke-width="0.7"/>
<line x1="1546" y1="688" x2="1531.5" y2="695.8" stroke="#bbb" stroke-width="0.7"/>
<rect x="1337.25" y="726.2" width="47.75" height="2.7" fill="#e2e2e2" stroke="#9a9a9a" stroke-width="0.6"/>
<rect x="1407.5" y="726.2" width="48.4" height="2.7" fill="#e2e2e2" stroke="#9a9a9a" stroke-width="0.6"/>
<rect x="1383" y="726" width="2.6" height="47.1" fill="#d4d4d4" stroke="#8e8e8e" stroke-width="0.7"/>
<rect x="1383" y="771.55" width="11.75" height="1.9" fill="#d8d8d8" stroke="#8e8e8e" stroke-width="0.7"/>
<rect x="1406.85" y="726" width="2.9" height="47.75" fill="#d4d4d4" stroke="#8e8e8e" stroke-width="0.7"/>
<path d="M1405.6 772.5L1405.6 761.2A11.3 11.3 0 0 0 1394.3 772.5" fill="none" stroke="#9a9a9a" stroke-width="0.7"/>
<rect x="1405.6" y="772.3" width="35.65" height="2.4" fill="#d8d8d8" stroke="#8e8e8e" stroke-width="0.7"/>
<path d="M1453.5 773.5L1453.5 759.7A13.8 13.8 0 0 0 1439.7 773.5" fill="none" stroke="#9a9a9a" stroke-width="0.7"/>
<rect x="1435.7" y="773.5" width="3" height="5.9" fill="#d4d4d4" stroke="#8e8e8e" stroke-width="0.7"/>
<path d="M1436.25 780L1421.25 780A15 15 0 0 0 1436.25 795" fill="none" stroke="#9a9a9a" stroke-width="0.7"/>
<rect x="1435.7" y="794.4" width="3" height="26.2" fill="#d4d4d4" stroke="#8e8e8e" stroke-width="0.7"/>
<rect x="1314.1" y="818.85" width="124.65" height="1.8" fill="#d8d8d8" stroke="#8e8e8e" stroke-width="0.7"/>
<rect x="1427.8" y="821.2" width="2" height="2.4" fill="#eee" stroke="#777" stroke-width="0.5"/>
<path d="M1428.75 823.1L1413.35 823.1A15.4 15.4 0 0 0 1428.75 838.5" fill="none" stroke="#9a9a9a" stroke-width="0.7"/>
<rect x="1386.3" y="840.25" width="3" height="38.25" fill="#d4d4d4" stroke="#8e8e8e" stroke-width="0.7"/>
<rect x="1386.25" y="840.3" width="19" height="2.4" fill="#d8d8d8" stroke="#8e8e8e" stroke-width="0.7"/>
<rect x="1418.5" y="840.3" width="10.9" height="2.4" fill="#d8d8d8" stroke="#8e8e8e" stroke-width="0.7"/>
<rect x="1427.75" y="838.1" width="2" height="30.4" fill="#d4d4d4" stroke="#8e8e8e" stroke-width="0.7"/>
<rect x="1386.25" y="875" width="32.5" height="3.2" fill="#e2e2e2" stroke="#9a9a9a" stroke-width="0.6"/>
<rect x="1415" y="865" width="3.75" height="13.2" fill="#e2e2e2" stroke="#9a9a9a" stroke-width="0.6"/>
<rect x="1415" y="865" width="14.75" height="3.2" fill="#e2e2e2" stroke="#9a9a9a" stroke-width="0.6"/>
<path d="M1418.5 842L1418.5 855.2A13.2 13.2 0 0 1 1405.3 842" fill="none" stroke="#9a9a9a" stroke-width="0.7"/>
<rect x="1422.2" y="872.3" width="37.2" height="24.2" fill="#fff"/>
<rect x="1438.3" y="868.3" width="15" height="4.7" fill="#fff"/>
<rect x="1356.4" y="881.9" width="64.9" height="14.4" fill="#fff"/>
<line x1="1359.5" y1="882.4" x2="1359.5" y2="895.8" stroke="#444" stroke-width="1"/>
<line x1="1363.5" y1="882.4" x2="1363.5" y2="895.8" stroke="#444" stroke-width="1"/>
<line x1="1367.5" y1="882.4" x2="1367.5" y2="895.8" stroke="#444" stroke-width="1"/>
<line x1="1370.5" y1="882.4" x2="1370.5" y2="895.8" stroke="#444" stroke-width="1"/>
<line x1="1374.5" y1="882.4" x2="1374.5" y2="895.8" stroke="#444" stroke-width="1"/>
<line x1="1377.5" y1="882.4" x2="1377.5" y2="895.8" stroke="#444" stroke-width="1"/>
<line x1="1381.5" y1="882.4" x2="1381.5" y2="895.8" stroke="#444" stroke-width="1"/>
<line x1="1384.5" y1="882.4" x2="1384.5" y2="895.8" stroke="#444" stroke-width="1"/>
<line x1="1388.5" y1="882.4" x2="1388.5" y2="895.8" stroke="#444" stroke-width="1"/>
<line x1="1391.5" y1="882.4" x2="1391.5" y2="895.8" stroke="#444" stroke-width="1"/>
<line x1="1395.5" y1="882.4" x2="1395.5" y2="895.8" stroke="#444" stroke-width="1"/>
<line x1="1398.5" y1="882.4" x2="1398.5" y2="895.8" stroke="#444" stroke-width="1"/>
<line x1="1402.5" y1="882.4" x2="1402.5" y2="895.8" stroke="#444" stroke-width="1"/>
<line x1="1406.5" y1="882.4" x2="1406.5" y2="895.8" stroke="#444" stroke-width="1"/>
<line x1="1409.5" y1="882.4" x2="1409.5" y2="895.8" stroke="#444" stroke-width="1"/>
<line x1="1413.5" y1="882.4" x2="1413.5" y2="895.8" stroke="#444" stroke-width="1"/>
<line x1="1416.5" y1="882.4" x2="1416.5" y2="895.8" stroke="#444" stroke-width="1"/>
<line x1="1420.5" y1="882.4" x2="1420.5" y2="895.8" stroke="#444" stroke-width="1"/>
<line x1="1356.4" y1="882.5" x2="1421.3" y2="882.5" stroke="#444" stroke-width="0.7"/>
<line x1="1356.4" y1="895.7" x2="1421.3" y2="895.7" stroke="#444" stroke-width="0.9" stroke-dasharray="4 1.5"/>
<line x1="1356.4" y1="889.6" x2="1416.3" y2="889.6" stroke="#999" stroke-width="0.5"/>
<line x1="1387.4" y1="882.9" x2="1399.4" y2="895.3" stroke="#999" stroke-width="0.7"/>
<rect x="1360.4" y="886.4" width="6.5" height="4" fill="#222"/>
<rect x="1352.5" y="878.5" width="69.75" height="3.4" fill="#dcdcdc" stroke="#9a9a9a" stroke-width="0.7"/>
<rect x="1352.5" y="878.5" width="3.75" height="17.8" fill="#dcdcdc" stroke="#9a9a9a" stroke-width="0.7"/>
<rect x="1418.75" y="868.5" width="3.5" height="13.4" fill="#dcdcdc" stroke="#9a9a9a" stroke-width="0.7"/>
<rect x="1418.75" y="868.5" width="19.35" height="3.75" fill="#dcdcdc" stroke="#9a9a9a" stroke-width="0.7"/>
<rect x="1453" y="868.5" width="2.9" height="3.75" fill="#dcdcdc" stroke="#9a9a9a" stroke-width="0.7"/>
<path d="M1453.5 868.5L1453.5 854.3A14.2 14.2 0 0 0 1439.3 868.5" fill="none" stroke="#9a9a9a" stroke-width="0.7"/>
<polygon points="1443.4,875.92 1447.8,875.92 1445.6,872.62" fill="#111"/>
<polygon points="1452.28,880.3 1452.28,884.7 1455.58,882.5" fill="#111"/>
<rect x="1459.4" y="726.2" width="45" height="2.8" fill="#e2e2e2" stroke="#9a9a9a" stroke-width="0.6"/>
<rect x="1529.4" y="726.4" width="48.1" height="2.2" fill="#e2e2e2" stroke="#9a9a9a" stroke-width="0.6"/>
<rect x="1504.45" y="726" width="3.1" height="48.4" fill="#d4d4d4" stroke="#8e8e8e" stroke-width="0.7"/>
<rect x="1529.35" y="728" width="2.5" height="28.5" fill="#d4d4d4" stroke="#8e8e8e" stroke-width="0.7"/>
<rect x="1520.25" y="754.65" width="11.65" height="1.9" fill="#d8d8d8" stroke="#8e8e8e" stroke-width="0.7"/>
<rect x="1507.5" y="754.4" width="2.2" height="2.5" fill="#eee" stroke="#777" stroke-width="0.5"/>
<path d="M1509.4 755.6L1509.4 744A11.6 11.6 0 0 1 1521 755.6" fill="none" stroke="#9a9a9a" stroke-width="0.7"/>
<rect x="1473.5" y="772.4" width="34" height="2.2" fill="#d8d8d8" stroke="#8e8e8e" stroke-width="0.7"/>
<rect x="1454" y="772" width="6.6" height="2.4" fill="#ccc" stroke="#888" stroke-width="0.5"/>
<path d="M1460.5 773L1460.5 759.5A13.5 13.5 0 0 1 1474 773" fill="none" stroke="#9a9a9a" stroke-width="0.7"/>
<path d="M1479.5 775L1493.9 775A14.4 14.4 0 0 1 1479.5 789.4" fill="none" stroke="#9a9a9a" stroke-width="0.7"/>
<rect x="1477.3" y="790" width="3.2" height="22.5" fill="#d4d4d4" stroke="#8e8e8e" stroke-width="0.7"/>
<rect x="1480" y="800.25" width="24" height="4.15" fill="#e2e2e2" stroke="#9a9a9a" stroke-width="0.6"/>
<rect x="1561.9" y="800.95" width="25.9" height="1.9" fill="#d8d8d8" stroke="#8e8e8e" stroke-width="0.7"/>
<path d="M1480.6 825.6L1494.1 825.6A13.5 13.5 0 0 0 1480.6 812.1" fill="none" stroke="#9a9a9a" stroke-width="0.7"/>
<rect x="1477.25" y="825.4" width="34.75" height="2.8" fill="#d8d8d8" stroke="#8e8e8e" stroke-width="0.7"/>
<path d="M1480.4 828.75L1494.4 828.75A14 14 0 0 1 1480.4 842.75" fill="none" stroke="#9a9a9a" stroke-width="0.7"/>
<rect x="1477.3" y="843.5" width="3.2" height="28.4" fill="#d4d4d4" stroke="#8e8e8e" stroke-width="0.7"/>
<rect x="1480" y="852.9" width="107.8" height="2.6" fill="#d8d8d8" stroke="#8e8e8e" stroke-width="0.7"/>
<path d="M1480.4 886.25L1494.4 886.25A14 14 0 0 0 1480.4 872.25" fill="none" stroke="#9a9a9a" stroke-width="0.7"/>
<rect x="1477.3" y="886.25" width="3.2" height="10.05" fill="#d4d4d4" stroke="#8e8e8e" stroke-width="0.7"/>
<path d="M1459.4 887L1473.6 887A14.2 14.2 0 0 0 1459.4 872.8" fill="none" stroke="#9a9a9a" stroke-width="0.7"/>
<rect x="1305.6" y="63.75" width="8.5" height="28.5" fill="#fff"/>
<line x1="1306" y1="63.75" x2="1306" y2="92.25" stroke="#999" stroke-width="0.7"/>
<rect x="1308.2" y="63.75" width="1.7" height="28.5" fill="#c8c8c8" stroke="#aaa" stroke-width="0.4"/>
<line x1="1313.7" y1="63.75" x2="1313.7" y2="92.25" stroke="#999" stroke-width="0.7"/>
<rect x="1305.6" y="96.5" width="8.5" height="11.6" fill="#fff"/>
<line x1="1306" y1="96.5" x2="1306" y2="108.1" stroke="#999" stroke-width="0.7"/>
<rect x="1308.2" y="96.5" width="1.7" height="11.6" fill="#c8c8c8" stroke="#aaa" stroke-width="0.4"/>
<line x1="1313.7" y1="96.5" x2="1313.7" y2="108.1" stroke="#999" stroke-width="0.7"/>
<rect x="1305.6" y="123.5" width="8.5" height="17.75" fill="#fff"/>
<line x1="1306" y1="123.5" x2="1306" y2="141.25" stroke="#999" stroke-width="0.7"/>
<rect x="1308.2" y="123.5" width="1.7" height="17.75" fill="#c8c8c8" stroke="#aaa" stroke-width="0.4"/>
<line x1="1313.7" y1="123.5" x2="1313.7" y2="141.25" stroke="#999" stroke-width="0.7"/>
<rect x="1305.6" y="150" width="8.5" height="28.5" fill="#fff"/>
<line x1="1306" y1="150" x2="1306" y2="178.5" stroke="#999" stroke-width="0.7"/>
<rect x="1308.2" y="150" width="1.7" height="28.5" fill="#c8c8c8" stroke="#aaa" stroke-width="0.4"/>
<line x1="1313.7" y1="150" x2="1313.7" y2="178.5" stroke="#999" stroke-width="0.7"/>
<rect x="1305.6" y="216.25" width="8.5" height="29" fill="#fff"/>
<line x1="1306" y1="216.25" x2="1306" y2="245.25" stroke="#999" stroke-width="0.7"/>
<rect x="1308.2" y="216.25" width="1.7" height="29" fill="#c8c8c8" stroke="#aaa" stroke-width="0.4"/>
<line x1="1313.7" y1="216.25" x2="1313.7" y2="245.25" stroke="#999" stroke-width="0.7"/>
<rect x="1305.6" y="268.5" width="8.5" height="28.75" fill="#fff"/>
<line x1="1306" y1="268.5" x2="1306" y2="297.25" stroke="#999" stroke-width="0.7"/>
<rect x="1308.2" y="268.5" width="1.7" height="28.75" fill="#c8c8c8" stroke="#aaa" stroke-width="0.4"/>
<line x1="1313.7" y1="268.5" x2="1313.7" y2="297.25" stroke="#999" stroke-width="0.7"/>
<rect x="1305.6" y="334.4" width="8.5" height="28.7" fill="#fff"/>
<line x1="1306" y1="334.4" x2="1306" y2="363.1" stroke="#999" stroke-width="0.7"/>
<rect x="1308.2" y="334.4" width="1.7" height="28.7" fill="#c8c8c8" stroke="#aaa" stroke-width="0.4"/>
<line x1="1313.7" y1="334.4" x2="1313.7" y2="363.1" stroke="#999" stroke-width="0.7"/>
<rect x="1305.6" y="375.75" width="8.5" height="13.5" fill="#fff"/>
<line x1="1306" y1="375.75" x2="1306" y2="389.25" stroke="#999" stroke-width="0.7"/>
<rect x="1308.2" y="375.75" width="1.7" height="13.5" fill="#c8c8c8" stroke="#aaa" stroke-width="0.4"/>
<line x1="1313.7" y1="375.75" x2="1313.7" y2="389.25" stroke="#999" stroke-width="0.7"/>
<rect x="1305.6" y="407.5" width="8.5" height="17.5" fill="#fff"/>
<line x1="1306" y1="407.5" x2="1306" y2="425" stroke="#999" stroke-width="0.7"/>
<rect x="1308.2" y="407.5" width="1.7" height="17.5" fill="#c8c8c8" stroke="#aaa" stroke-width="0.4"/>
<line x1="1313.7" y1="407.5" x2="1313.7" y2="425" stroke="#999" stroke-width="0.7"/>
<rect x="1305.6" y="429.25" width="8.5" height="28.25" fill="#fff"/>
<line x1="1306" y1="429.25" x2="1306" y2="457.5" stroke="#999" stroke-width="0.7"/>
<rect x="1308.2" y="429.25" width="1.7" height="28.25" fill="#c8c8c8" stroke="#aaa" stroke-width="0.4"/>
<line x1="1313.7" y1="429.25" x2="1313.7" y2="457.5" stroke="#999" stroke-width="0.7"/>
<rect x="1305.6" y="495" width="8.5" height="28.75" fill="#fff"/>
<line x1="1306" y1="495" x2="1306" y2="523.75" stroke="#999" stroke-width="0.7"/>
<rect x="1308.2" y="495" width="1.7" height="28.75" fill="#c8c8c8" stroke="#aaa" stroke-width="0.4"/>
<line x1="1313.7" y1="495" x2="1313.7" y2="523.75" stroke="#999" stroke-width="0.7"/>
<rect x="1305.6" y="545" width="8.5" height="28.75" fill="#fff"/>
<line x1="1306" y1="545" x2="1306" y2="573.75" stroke="#999" stroke-width="0.7"/>
<rect x="1308.2" y="545" width="1.7" height="28.75" fill="#c8c8c8" stroke="#aaa" stroke-width="0.4"/>
<line x1="1313.7" y1="545" x2="1313.7" y2="573.75" stroke="#999" stroke-width="0.7"/>
<rect x="1305.6" y="623.75" width="8.5" height="28.75" fill="#fff"/>
<line x1="1306" y1="623.75" x2="1306" y2="652.5" stroke="#999" stroke-width="0.7"/>
<rect x="1308.2" y="623.75" width="1.7" height="28.75" fill="#c8c8c8" stroke="#aaa" stroke-width="0.4"/>
<line x1="1313.7" y1="623.75" x2="1313.7" y2="652.5" stroke="#999" stroke-width="0.7"/>
<rect x="1305.6" y="684.4" width="8.5" height="28.7" fill="#fff"/>
<line x1="1306" y1="684.4" x2="1306" y2="713.1" stroke="#999" stroke-width="0.7"/>
<rect x="1308.2" y="684.4" width="1.7" height="28.7" fill="#c8c8c8" stroke="#aaa" stroke-width="0.4"/>
<line x1="1313.7" y1="684.4" x2="1313.7" y2="713.1" stroke="#999" stroke-width="0.7"/>
<rect x="1305.6" y="756.5" width="8.5" height="42.9" fill="#fff"/>
<line x1="1306" y1="756.5" x2="1306" y2="799.4" stroke="#999" stroke-width="0.7"/>
<rect x="1308.2" y="756.5" width="1.7" height="42.9" fill="#c8c8c8" stroke="#aaa" stroke-width="0.4"/>
<line x1="1313.7" y1="756.5" x2="1313.7" y2="799.4" stroke="#999" stroke-width="0.7"/>
<rect x="1305.6" y="831.25" width="8.5" height="28.75" fill="#fff"/>
<line x1="1306" y1="831.25" x2="1306" y2="860" stroke="#999" stroke-width="0.7"/>
<rect x="1308.2" y="831.25" width="1.7" height="28.75" fill="#c8c8c8" stroke="#aaa" stroke-width="0.4"/>
<line x1="1313.7" y1="831.25" x2="1313.7" y2="860" stroke="#999" stroke-width="0.7"/>
<rect x="1305.6" y="32" width="8.5" height="31.75" fill="#000"/>
<rect x="1305.6" y="92.25" width="9.1" height="4.25" fill="#000"/>
<rect x="1305.6" y="108.1" width="8.5" height="15.4" fill="#000"/>
<rect x="1305.6" y="141.25" width="8.5" height="8.75" fill="#000"/>
<rect x="1305.6" y="178.5" width="8.5" height="37.75" fill="#000"/>
<rect x="1305.6" y="245.25" width="8.5" height="23.25" fill="#000"/>
<rect x="1305.6" y="297.25" width="8.5" height="37.15" fill="#000"/>
<rect x="1305.6" y="363.1" width="8.5" height="12.65" fill="#000"/>
<rect x="1305.6" y="389.25" width="8.5" height="18.25" fill="#000"/>
<rect x="1305.6" y="425" width="9.1" height="4.25" fill="#000"/>
<rect x="1305.6" y="457.5" width="8.5" height="37.5" fill="#000"/>
<rect x="1305.6" y="523.75" width="8.5" height="21.25" fill="#000"/>
<rect x="1305.6" y="573.75" width="8.5" height="50" fill="#000"/>
<rect x="1305.6" y="652.5" width="8.5" height="31.9" fill="#000"/>
<rect x="1305.6" y="713.1" width="8.5" height="43.4" fill="#000"/>
<rect x="1305.6" y="799.4" width="8.5" height="31.85" fill="#000"/>
<rect x="1305.6" y="860" width="8.5" height="44.5" fill="#000"/>
<rect x="1587.8" y="50.6" width="8.9" height="42.9" fill="#fff"/>
<line x1="1588.2" y1="50.6" x2="1588.2" y2="93.5" stroke="#999" stroke-width="0.7"/>
<rect x="1592.1" y="50.6" width="1.7" height="42.9" fill="#c8c8c8" stroke="#aaa" stroke-width="0.4"/>
<line x1="1596.3" y1="50.6" x2="1596.3" y2="93.5" stroke="#999" stroke-width="0.7"/>
<rect x="1587.8" y="107.5" width="8.9" height="28.75" fill="#fff"/>
<line x1="1588.2" y1="107.5" x2="1588.2" y2="136.25" stroke="#999" stroke-width="0.7"/>
<rect x="1592.1" y="107.5" width="1.7" height="28.75" fill="#c8c8c8" stroke="#aaa" stroke-width="0.4"/>
<line x1="1596.3" y1="107.5" x2="1596.3" y2="136.25" stroke="#999" stroke-width="0.7"/>
<rect x="1587.8" y="158.1" width="8.9" height="28.4" fill="#fff"/>
<line x1="1588.2" y1="158.1" x2="1588.2" y2="186.5" stroke="#999" stroke-width="0.7"/>
<rect x="1592.1" y="158.1" width="1.7" height="28.4" fill="#c8c8c8" stroke="#aaa" stroke-width="0.4"/>
<line x1="1596.3" y1="158.1" x2="1596.3" y2="186.5" stroke="#999" stroke-width="0.7"/>
<rect x="1587.8" y="207.25" width="8.9" height="43.35" fill="#fff"/>
<line x1="1588.2" y1="207.25" x2="1588.2" y2="250.6" stroke="#999" stroke-width="0.7"/>
<rect x="1592.1" y="207.25" width="1.7" height="43.35" fill="#c8c8c8" stroke="#aaa" stroke-width="0.4"/>
<line x1="1596.3" y1="207.25" x2="1596.3" y2="250.6" stroke="#999" stroke-width="0.7"/>
<rect x="1587.8" y="270" width="8.9" height="43" fill="#fff"/>
<line x1="1588.2" y1="270" x2="1588.2" y2="313" stroke="#999" stroke-width="0.7"/>
<rect x="1592.1" y="270" width="1.7" height="43" fill="#c8c8c8" stroke="#aaa" stroke-width="0.4"/>
<line x1="1596.3" y1="270" x2="1596.3" y2="313" stroke="#999" stroke-width="0.7"/>
<rect x="1587.8" y="335" width="8.9" height="28" fill="#fff"/>
<line x1="1588.2" y1="335" x2="1588.2" y2="363" stroke="#999" stroke-width="0.7"/>
<rect x="1592.1" y="335" width="1.7" height="28" fill="#c8c8c8" stroke="#aaa" stroke-width="0.4"/>
<line x1="1596.3" y1="335" x2="1596.3" y2="363" stroke="#999" stroke-width="0.7"/>
<rect x="1587.8" y="377.5" width="8.9" height="28.75" fill="#fff"/>
<line x1="1588.2" y1="377.5" x2="1588.2" y2="406.25" stroke="#999" stroke-width="0.7"/>
<rect x="1592.1" y="377.5" width="1.7" height="28.75" fill="#c8c8c8" stroke="#aaa" stroke-width="0.4"/>
<line x1="1596.3" y1="377.5" x2="1596.3" y2="406.25" stroke="#999" stroke-width="0.7"/>
<rect x="1587.8" y="432" width="8.9" height="43" fill="#fff"/>
<line x1="1588.2" y1="432" x2="1588.2" y2="475" stroke="#999" stroke-width="0.7"/>
<rect x="1592.1" y="432" width="1.7" height="43" fill="#c8c8c8" stroke="#aaa" stroke-width="0.4"/>
<line x1="1596.3" y1="432" x2="1596.3" y2="475" stroke="#999" stroke-width="0.7"/>
<rect x="1587.8" y="495" width="8.9" height="43" fill="#fff"/>
<line x1="1588.2" y1="495" x2="1588.2" y2="538" stroke="#999" stroke-width="0.7"/>
<rect x="1592.1" y="495" width="1.7" height="43" fill="#c8c8c8" stroke="#aaa" stroke-width="0.4"/>
<line x1="1596.3" y1="495" x2="1596.3" y2="538" stroke="#999" stroke-width="0.7"/>
<rect x="1587.8" y="562.5" width="8.9" height="28.75" fill="#fff"/>
<line x1="1588.2" y1="562.5" x2="1588.2" y2="591.25" stroke="#999" stroke-width="0.7"/>
<rect x="1592.1" y="562.5" width="1.7" height="28.75" fill="#c8c8c8" stroke="#aaa" stroke-width="0.4"/>
<line x1="1596.3" y1="562.5" x2="1596.3" y2="591.25" stroke="#999" stroke-width="0.7"/>
<rect x="1587.8" y="605" width="8.9" height="28.75" fill="#fff"/>
<line x1="1588.2" y1="605" x2="1588.2" y2="633.75" stroke="#999" stroke-width="0.7"/>
<rect x="1592.1" y="605" width="1.7" height="28.75" fill="#c8c8c8" stroke="#aaa" stroke-width="0.4"/>
<line x1="1596.3" y1="605" x2="1596.3" y2="633.75" stroke="#999" stroke-width="0.7"/>
<rect x="1587.8" y="671.25" width="8.9" height="42.5" fill="#fff"/>
<line x1="1588.2" y1="671.25" x2="1588.2" y2="713.75" stroke="#999" stroke-width="0.7"/>
<rect x="1592.1" y="671.25" width="1.7" height="42.5" fill="#c8c8c8" stroke="#aaa" stroke-width="0.4"/>
<line x1="1596.3" y1="671.25" x2="1596.3" y2="713.75" stroke="#999" stroke-width="0.7"/>
<rect x="1587.8" y="747.25" width="8.9" height="43" fill="#fff"/>
<line x1="1588.2" y1="747.25" x2="1588.2" y2="790.25" stroke="#999" stroke-width="0.7"/>
<rect x="1592.1" y="747.25" width="1.7" height="43" fill="#c8c8c8" stroke="#aaa" stroke-width="0.4"/>
<line x1="1596.3" y1="747.25" x2="1596.3" y2="790.25" stroke="#999" stroke-width="0.7"/>
<rect x="1587.8" y="818.75" width="8.9" height="28.5" fill="#fff"/>
<line x1="1588.2" y1="818.75" x2="1588.2" y2="847.25" stroke="#999" stroke-width="0.7"/>
<rect x="1592.1" y="818.75" width="1.7" height="28.5" fill="#c8c8c8" stroke="#aaa" stroke-width="0.4"/>
<line x1="1596.3" y1="818.75" x2="1596.3" y2="847.25" stroke="#999" stroke-width="0.7"/>
<rect x="1587.8" y="861.25" width="8.9" height="28.15" fill="#fff"/>
<line x1="1588.2" y1="861.25" x2="1588.2" y2="889.4" stroke="#999" stroke-width="0.7"/>
<rect x="1592.1" y="861.25" width="1.7" height="28.15" fill="#c8c8c8" stroke="#aaa" stroke-width="0.4"/>
<line x1="1596.3" y1="861.25" x2="1596.3" y2="889.4" stroke="#999" stroke-width="0.7"/>
<rect x="1587.8" y="32" width="8.9" height="18.6" fill="#000"/>
<rect x="1587.8" y="93.5" width="8.9" height="14" fill="#000"/>
<rect x="1587.8" y="136.25" width="8.9" height="21.85" fill="#000"/>
<rect x="1587.8" y="186.5" width="8.9" height="20.75" fill="#000"/>
<rect x="1587.8" y="250.6" width="8.9" height="19.4" fill="#000"/>
<rect x="1587.8" y="313" width="8.9" height="22" fill="#000"/>
<rect x="1587.8" y="363" width="8.9" height="14.5" fill="#000"/>
<rect x="1587.8" y="406.25" width="8.9" height="25.75" fill="#000"/>
<rect x="1587.8" y="475" width="8.9" height="20" fill="#000"/>
<rect x="1587.8" y="538" width="8.9" height="24.5" fill="#000"/>
<rect x="1587.8" y="591.25" width="8.9" height="13.75" fill="#000"/>
<rect x="1587.8" y="633.75" width="8.9" height="37.5" fill="#000"/>
<rect x="1587.8" y="713.75" width="8.9" height="33.5" fill="#000"/>
<rect x="1587.8" y="790.25" width="8.9" height="28.5" fill="#000"/>
<rect x="1587.8" y="847.25" width="8.9" height="14" fill="#000"/>
<rect x="1587.8" y="889.4" width="8.9" height="15.1" fill="#000"/>
<rect x="1305.6" y="32.1" width="291.1" height="8.3" fill="#000"/>
<rect x="1327.25" y="32.6" width="28.15" height="8.2" fill="#fff"/>
<line x1="1327.25" y1="35.2" x2="1355.4" y2="35.2" stroke="#aaa" stroke-width="1.2"/>
<line x1="1327.25" y1="32.7" x2="1355.4" y2="32.7" stroke="#999" stroke-width="0.6"/>
<line x1="1327.25" y1="40.3" x2="1355.4" y2="40.3" stroke="#999" stroke-width="0.6"/>
<rect x="1424.75" y="32.6" width="21.25" height="8.2" fill="#fff"/>
<line x1="1424.75" y1="35.2" x2="1446" y2="35.2" stroke="#aaa" stroke-width="1.2"/>
<line x1="1424.75" y1="32.7" x2="1446" y2="32.7" stroke="#999" stroke-width="0.6"/>
<line x1="1424.75" y1="40.3" x2="1446" y2="40.3" stroke="#999" stroke-width="0.6"/>
<rect x="1474.7" y="32.6" width="20.9" height="8.2" fill="#fff"/>
<line x1="1474.7" y1="35.2" x2="1495.6" y2="35.2" stroke="#aaa" stroke-width="1.2"/>
<line x1="1474.7" y1="32.7" x2="1495.6" y2="32.7" stroke="#999" stroke-width="0.6"/>
<line x1="1474.7" y1="40.3" x2="1495.6" y2="40.3" stroke="#999" stroke-width="0.6"/>
<rect x="1546.25" y="32.6" width="28.15" height="8.2" fill="#fff"/>
<line x1="1546.25" y1="35.2" x2="1574.4" y2="35.2" stroke="#aaa" stroke-width="1.2"/>
<line x1="1546.25" y1="32.7" x2="1574.4" y2="32.7" stroke="#999" stroke-width="0.6"/>
<line x1="1546.25" y1="40.3" x2="1574.4" y2="40.3" stroke="#999" stroke-width="0.6"/>
<rect x="1305.6" y="896.25" width="291.1" height="8.15" fill="#000"/>
<rect x="1322.75" y="895.9" width="28.25" height="8.2" fill="#fff"/>
<line x1="1322.75" y1="901" x2="1351" y2="901" stroke="#aaa" stroke-width="0.9"/>
<line x1="1322.75" y1="896.3" x2="1351" y2="896.3" stroke="#999" stroke-width="0.6"/>
<line x1="1322.75" y1="904" x2="1351" y2="904" stroke="#999" stroke-width="0.6"/>
<rect x="1546.25" y="895.9" width="28.15" height="8.2" fill="#fff"/>
<line x1="1546.25" y1="901" x2="1574.4" y2="901" stroke="#aaa" stroke-width="0.9"/>
<line x1="1546.25" y1="896.3" x2="1574.4" y2="896.3" stroke="#999" stroke-width="0.6"/>
<line x1="1546.25" y1="904" x2="1574.4" y2="904" stroke="#999" stroke-width="0.6"/>
<rect x="1455.9" y="40" width="3.5" height="90.4" fill="#000"/>
<rect x="1455.9" y="165" width="3.5" height="190.4" fill="#000"/>
<rect x="1455.9" y="390" width="3.5" height="190.2" fill="#000"/>
<rect x="1455.9" y="614.8" width="3.5" height="258.6" fill="#000"/>
<rect x="1455.9" y="887.5" width="3.5" height="9.5" fill="#000"/>
<rect x="1313.6" y="258.1" width="274.7" height="3.7" fill="#000"/>
<rect x="1313.6" y="483.3" width="274.7" height="3.7" fill="#000"/>
<rect x="1313.6" y="722.4" width="274.7" height="3.7" fill="#000"/>
<rect x="1455.9" y="145.8" width="132.4" height="4" fill="#000"/>
<rect x="1455.5" y="145" width="4.5" height="5.5" fill="#000"/>
<rect x="1455.9" y="370.5" width="132.4" height="4" fill="#000"/>
<rect x="1455.5" y="369.7" width="4.5" height="5.5" fill="#000"/>
<rect x="1455.9" y="595.8" width="132.4" height="4" fill="#000"/>
<rect x="1455.5" y="595" width="4.5" height="5.5" fill="#000"/>
<g style="filter:grayscale(1)">
<circle cx="355.6" cy="82.75" r="29.65" fill="#fff" stroke="#111" stroke-width="1.3"/>
<text transform="translate(355.6 89.15) scale(0.963 1)" x="0" y="0" class="we">WE 20</text>
<circle cx="504.3" cy="82.75" r="29.65" fill="#fff" stroke="#111" stroke-width="1.3"/>
<text transform="translate(504.3 89.15) scale(0.963 1)" x="0" y="0" class="we">WE 19</text>
<circle cx="355.6" cy="209.4" r="29.65" fill="#fff" stroke="#111" stroke-width="1.3"/>
<text transform="translate(355.6 215.8) scale(0.963 1)" x="0" y="0" class="we">WE 17</text>
<circle cx="504.3" cy="209.4" r="29.65" fill="#fff" stroke="#111" stroke-width="1.3"/>
<text transform="translate(504.3 215.8) scale(0.963 1)" x="0" y="0" class="we">WE 18</text>
<circle cx="355.6" cy="307.4" r="29.65" fill="#fff" stroke="#111" stroke-width="1.3"/>
<text transform="translate(355.6 313.8) scale(0.963 1)" x="0" y="0" class="we">WE 16</text>
<circle cx="504.3" cy="307.4" r="29.65" fill="#fff" stroke="#111" stroke-width="1.3"/>
<text transform="translate(504.3 313.8) scale(0.963 1)" x="0" y="0" class="we">WE 15</text>
<circle cx="355.6" cy="433.6" r="29.65" fill="#fff" stroke="#111" stroke-width="1.3"/>
<text transform="translate(355.6 440) scale(0.963 1)" x="0" y="0" class="we">WE 13</text>
<circle cx="504.3" cy="433.6" r="29.65" fill="#fff" stroke="#111" stroke-width="1.3"/>
<text transform="translate(504.3 440) scale(0.963 1)" x="0" y="0" class="we">WE 14</text>
<circle cx="355.6" cy="530.8" r="29.65" fill="#fff" stroke="#111" stroke-width="1.3"/>
<text transform="translate(355.6 537.2) scale(0.963 1)" x="0" y="0" class="we">WE 12</text>
<circle cx="504.3" cy="530.8" r="29.65" fill="#fff" stroke="#111" stroke-width="1.3"/>
<text transform="translate(504.3 537.2) scale(0.963 1)" x="0" y="0" class="we">WE 11</text>
<circle cx="355.6" cy="666.2" r="29.65" fill="#fff" stroke="#111" stroke-width="1.3"/>
<text transform="translate(355.6 672.6) scale(0.963 1)" x="0" y="0" class="we">WE 09</text>
<circle cx="504.3" cy="666.2" r="29.65" fill="#fff" stroke="#111" stroke-width="1.3"/>
<text transform="translate(504.3 672.6) scale(0.963 1)" x="0" y="0" class="we">WE 10</text>
<circle cx="355.6" cy="791.1" r="29.65" fill="#fff" stroke="#111" stroke-width="1.3"/>
<text transform="translate(355.6 797.5) scale(0.963 1)" x="0" y="0" class="we">WE 08</text>
<circle cx="504.3" cy="791.1" r="29.65" fill="#fff" stroke="#111" stroke-width="1.3"/>
<text transform="translate(504.3 797.5) scale(0.963 1)" x="0" y="0" class="we">WE 07</text>
<circle cx="1382.8" cy="87.1" r="29.65" fill="#fff" stroke="#111" stroke-width="1.3"/>
<text transform="translate(1382.8 93.5) scale(0.963 1)" x="0" y="0" class="we">WE 40</text>
<circle cx="1531.6" cy="87.1" r="29.65" fill="#fff" stroke="#111" stroke-width="1.3"/>
<text transform="translate(1531.6 93.5) scale(0.963 1)" x="0" y="0" class="we">WE 39</text>
<circle cx="1382.8" cy="199.7" r="29.65" fill="#fff" stroke="#111" stroke-width="1.3"/>
<text transform="translate(1382.8 206.1) scale(0.963 1)" x="0" y="0" class="we">WE 37</text>
<circle cx="1531.6" cy="199.7" r="29.65" fill="#fff" stroke="#111" stroke-width="1.3"/>
<text transform="translate(1531.6 206.1) scale(0.963 1)" x="0" y="0" class="we">WE 38</text>
<circle cx="1382.8" cy="309.5" r="29.65" fill="#fff" stroke="#111" stroke-width="1.3"/>
<text transform="translate(1382.8 315.9) scale(0.963 1)" x="0" y="0" class="we">WE 36</text>
<circle cx="1531.6" cy="309.5" r="29.65" fill="#fff" stroke="#111" stroke-width="1.3"/>
<text transform="translate(1531.6 315.9) scale(0.963 1)" x="0" y="0" class="we">WE 35</text>
<circle cx="1382.8" cy="422.5" r="29.65" fill="#fff" stroke="#111" stroke-width="1.3"/>
<text transform="translate(1382.8 428.9) scale(0.963 1)" x="0" y="0" class="we">WE 33</text>
<circle cx="1531.6" cy="422.5" r="29.65" fill="#fff" stroke="#111" stroke-width="1.3"/>
<text transform="translate(1531.6 428.9) scale(0.963 1)" x="0" y="0" class="we">WE 34</text>
<circle cx="1382.8" cy="536.25" r="29.65" fill="#fff" stroke="#111" stroke-width="1.3"/>
<text transform="translate(1382.8 542.65) scale(0.963 1)" x="0" y="0" class="we">WE 32</text>
<circle cx="1531.6" cy="536.25" r="29.65" fill="#fff" stroke="#111" stroke-width="1.3"/>
<text transform="translate(1531.6 542.65) scale(0.963 1)" x="0" y="0" class="we">WE 31</text>
<circle cx="1382.8" cy="658" r="29.65" fill="#fff" stroke="#111" stroke-width="1.3"/>
<text transform="translate(1382.8 664.4) scale(0.963 1)" x="0" y="0" class="we">WE 29</text>
<circle cx="1531.6" cy="658" r="29.65" fill="#fff" stroke="#111" stroke-width="1.3"/>
<text transform="translate(1531.6 664.4) scale(0.963 1)" x="0" y="0" class="we">WE 30</text>
<circle cx="1382.8" cy="804.8" r="29.65" fill="#fff" stroke="#111" stroke-width="1.3"/>
<text transform="translate(1382.8 811.2) scale(0.963 1)" x="0" y="0" class="we">WE 28</text>
<circle cx="1531.6" cy="804.8" r="29.65" fill="#fff" stroke="#111" stroke-width="1.3"/>
<text transform="translate(1531.6 811.2) scale(0.963 1)" x="0" y="0" class="we">WE 27</text>
<text x="36.4" y="528.8" class="fl" textLength="44.2" lengthAdjust="spacingAndGlyphs">EG</text>
<text x="1086.5" y="528.8" class="fl" textLength="78.2" lengthAdjust="spacingAndGlyphs">1.OG</text>
<path d="M849.84 935.67A25.2 25.2 0 0 1 873.64 947.79" fill="none" stroke="#231f20" stroke-width="4.1"/>
<path d="M877.18 959.01A25.2 25.2 0 0 1 865.02 982.37" fill="none" stroke="#231f20" stroke-width="4.1"/>
<path d="M853.8 985.91A25.2 25.2 0 0 1 830.44 973.75" fill="none" stroke="#231f20" stroke-width="4.1"/>
<path d="M826.9 962.53A25.2 25.2 0 0 1 839.44 938.95" fill="none" stroke="#231f20" stroke-width="4.1"/>
<polygon points="842.51 932.01 859.78 950.42 848.37 949.36 840.07 956.7" fill="#231f20"/>
<polygon points="870.04 954.33 878.68 947.82 881.12 955.8" fill="#231f20"/>
<polygon points="822.79 966.07 834.04 966.55 825.24 974.05" fill="#231f20"/>
<polygon points="857.82 978.94 864.99 987.57 857.01 990.02" fill="#231f20"/>
<text class="n" transform="translate(853.91 966.07) rotate(-18) scale(0.95 1)" x="0" y="8.95">N</text>
<path d="M1839.84 935.67A25.2 25.2 0 0 1 1863.64 947.79" fill="none" stroke="#231f20" stroke-width="4.1"/>
<path d="M1867.18 959.01A25.2 25.2 0 0 1 1855.02 982.37" fill="none" stroke="#231f20" stroke-width="4.1"/>
<path d="M1843.8 985.91A25.2 25.2 0 0 1 1820.44 973.75" fill="none" stroke="#231f20" stroke-width="4.1"/>
<path d="M1816.9 962.53A25.2 25.2 0 0 1 1829.44 938.95" fill="none" stroke="#231f20" stroke-width="4.1"/>
<polygon points="1832.51 932.01 1849.78 950.42 1838.37 949.36 1830.07 956.7" fill="#231f20"/>
<polygon points="1860.04 954.33 1868.68 947.82 1871.12 955.8" fill="#231f20"/>
<polygon points="1812.79 966.07 1824.04 966.55 1815.24 974.05" fill="#231f20"/>
<polygon points="1847.82 978.94 1854.99 987.57 1847.01 990.02" fill="#231f20"/>
<text class="n" transform="translate(1843.91 966.07) rotate(-18) scale(0.95 1)" x="0" y="8.95">N</text>
</g>
</svg>
</body></html>
